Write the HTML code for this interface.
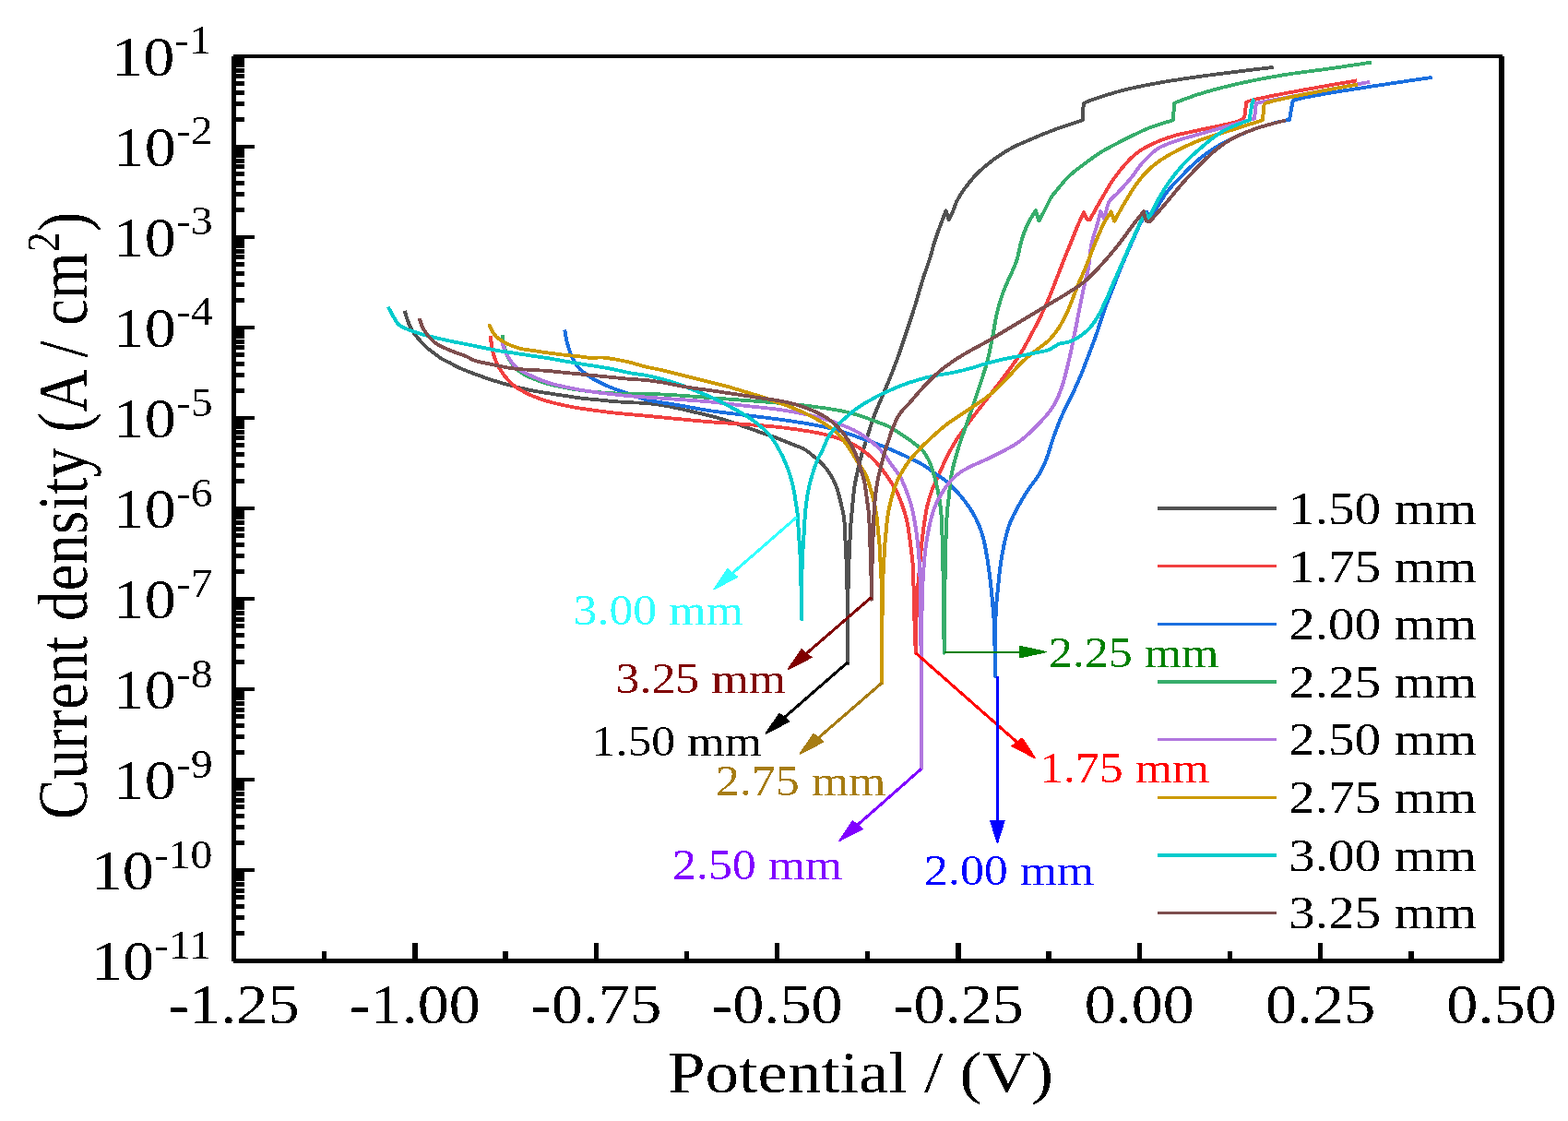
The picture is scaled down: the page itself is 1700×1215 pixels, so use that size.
<!DOCTYPE html>
<html lang="en"><head><meta charset="utf-8"><title>Potentiodynamic polarization curves</title>
<style>html,body{margin:0;padding:0;background:#fff;}body{width:1700px;height:1215px;overflow:hidden;}svg{display:block;}text{font-family:'Liberation Serif', serif;}</style>
</head><body>
<svg width="1700" height="1215" viewBox="0 0 1700 1215">
<rect x="0" y="0" width="1700" height="1215" fill="#ffffff"/>
<defs><filter id="thr" x="-5%" y="-20%" width="110%" height="140%" color-interpolation-filters="sRGB"><feComponentTransfer><feFuncA type="discrete" tableValues="0 1"/></feComponentTransfer></filter></defs>
<g transform="scale(1.05 1)" fill="none" stroke-width="3.8" stroke-linejoin="round" stroke-linecap="butt" shape-rendering="crispEdges">
<path stroke="#515151" d="M417.90 336.70 L417.97 336.97 L418.16 337.70 L418.44 338.78 L418.79 340.12 L419.20 341.61 L419.63 343.14 L420.06 344.60 L420.48 345.90 L420.92 347.21 L421.37 348.54 L421.84 349.88 L422.34 351.23 L422.86 352.58 L423.42 353.91 L424.02 355.22 L424.67 356.50 L425.38 357.77 L426.13 359.02 L426.93 360.24 L427.76 361.45 L428.63 362.64 L429.51 363.83 L430.42 365.02 L431.33 366.20 L432.32 367.45 L433.33 368.71 L434.37 369.97 L435.44 371.22 L436.52 372.45 L437.61 373.64 L438.71 374.80 L439.81 375.90 L440.83 376.87 L441.86 377.80 L442.91 378.69 L443.96 379.56 L445.01 380.41 L446.07 381.24 L447.13 382.07 L448.19 382.90 L449.23 383.72 L450.26 384.53 L451.30 385.34 L452.35 386.14 L453.39 386.92 L454.44 387.68 L455.50 388.41 L456.57 389.10 L457.60 389.72 L458.64 390.30 L459.69 390.84 L460.74 391.37 L461.80 391.89 L462.85 392.41 L463.90 392.94 L464.95 393.50 L466.01 394.09 L467.07 394.70 L468.13 395.32 L469.18 395.94 L470.24 396.56 L471.30 397.16 L472.36 397.75 L473.43 398.30 L474.45 398.80 L475.44 399.27 L476.43 399.72 L477.42 400.16 L478.44 400.60 L479.50 401.04 L480.62 401.51 L481.81 402.00 L483.62 402.74 L485.58 403.53 L487.66 404.36 L489.81 405.20 L492.02 406.04 L494.23 406.89 L496.43 407.71 L498.57 408.50 L500.67 409.26 L502.77 410.02 L504.88 410.77 L506.99 411.50 L509.09 412.22 L511.20 412.93 L513.32 413.63 L515.43 414.30 L517.52 414.95 L519.61 415.58 L521.70 416.20 L523.80 416.80 L525.89 417.39 L527.99 417.97 L530.09 418.54 L532.19 419.10 L534.29 419.65 L536.39 420.20 L538.50 420.74 L540.61 421.26 L542.72 421.77 L544.83 422.27 L546.94 422.74 L549.05 423.20 L551.14 423.63 L553.23 424.03 L555.33 424.42 L557.42 424.79 L559.52 425.15 L561.61 425.50 L563.71 425.85 L565.81 426.20 L567.91 426.54 L570.02 426.88 L572.13 427.20 L574.24 427.52 L576.35 427.83 L578.45 428.15 L580.56 428.47 L582.67 428.80 L584.76 429.14 L586.86 429.49 L588.95 429.85 L591.04 430.21 L593.14 430.56 L595.23 430.89 L597.33 431.21 L599.43 431.50 L601.53 431.76 L603.64 431.99 L605.74 432.21 L607.85 432.41 L609.96 432.60 L612.07 432.79 L614.18 432.99 L616.29 433.20 L618.38 433.42 L620.48 433.66 L622.57 433.89 L624.67 434.13 L626.76 434.36 L628.85 434.59 L630.95 434.80 L633.05 435.00 L635.15 435.18 L637.26 435.35 L639.37 435.51 L641.47 435.66 L643.58 435.81 L645.69 435.94 L647.80 436.07 L649.90 436.20 L652.00 436.31 L654.10 436.40 L656.20 436.47 L658.29 436.54 L660.39 436.62 L662.48 436.72 L664.57 436.84 L666.67 437.00 L668.76 437.19 L670.86 437.40 L672.96 437.63 L675.05 437.88 L677.15 438.16 L679.24 438.45 L681.34 438.76 L683.43 439.10 L685.54 439.47 L687.65 439.86 L689.76 440.28 L691.87 440.73 L693.97 441.18 L696.08 441.65 L698.18 442.12 L700.29 442.60 L702.39 443.08 L704.48 443.58 L706.58 444.09 L708.67 444.61 L710.76 445.13 L712.86 445.65 L714.95 446.18 L717.05 446.70 L719.15 447.22 L721.26 447.73 L723.37 448.23 L725.48 448.75 L727.59 449.26 L729.70 449.79 L731.80 450.34 L733.90 450.90 L736.01 451.48 L738.11 452.07 L740.21 452.67 L742.30 453.29 L744.39 453.92 L746.49 454.56 L748.58 455.22 L750.67 455.90 L752.78 456.61 L754.89 457.35 L757.00 458.11 L759.11 458.88 L761.21 459.66 L763.32 460.44 L765.42 461.23 L767.52 462.00 L769.62 462.77 L771.72 463.54 L773.81 464.32 L775.91 465.09 L778.00 465.87 L780.09 466.65 L782.19 467.42 L784.29 468.20 L786.39 468.97 L788.50 469.73 L790.61 470.49 L792.72 471.25 L794.83 472.01 L796.94 472.79 L799.04 473.58 L801.14 474.40 L803.26 475.25 L805.41 476.14 L807.55 477.04 L809.70 477.96 L811.81 478.87 L813.90 479.78 L815.93 480.65 L817.90 481.50 L819.56 482.18 L821.18 482.81 L822.77 483.41 L824.34 484.01 L825.87 484.63 L827.38 485.28 L828.85 486.00 L830.29 486.80 L831.64 487.66 L832.95 488.57 L834.23 489.54 L835.48 490.54 L836.71 491.58 L837.93 492.64 L839.15 493.72 L840.38 494.80 L841.67 495.93 L842.96 497.07 L844.24 498.24 L845.52 499.42 L846.78 500.64 L848.02 501.89 L849.22 503.17 L850.38 504.50 L851.55 505.91 L852.69 507.37 L853.81 508.87 L854.90 510.40 L855.96 511.96 L856.97 513.55 L857.94 515.16 L858.86 516.80 L859.73 518.47 L860.54 520.16 L861.31 521.87 L862.04 523.61 L862.74 525.39 L863.40 527.19 L864.05 529.03 L864.67 530.90 L865.32 533.02 L865.92 535.24 L866.50 537.53 L867.04 539.84 L867.55 542.14 L868.04 544.39 L868.50 546.55 L868.95 548.60 L869.30 550.14 L869.63 551.60 L869.96 553.02 L870.26 554.40 L870.55 555.77 L870.82 557.15 L871.06 558.55 L871.29 560.00 L871.49 561.57 L871.66 563.16 L871.81 564.76 L871.93 566.38 L872.04 568.01 L872.14 569.66 L872.23 571.32 L872.33 573.00 L872.44 574.83 L872.52 576.71 L872.60 578.62 L872.67 580.54 L872.74 582.45 L872.81 584.34 L872.88 586.20 L872.95 588.00 L873.02 589.56 L873.09 591.08 L873.17 592.58 L873.24 594.05 L873.31 595.52 L873.38 597.00 L873.45 598.49 L873.52 600.00 L873.60 601.60 L873.67 603.21 L873.75 604.84 L873.82 606.47 L873.90 608.10 L873.97 609.74 L874.03 611.37 L874.10 613.00 L874.15 614.62 L874.21 616.25 L874.26 617.87 L874.30 619.50 L874.35 621.12 L874.39 622.75 L874.43 624.37 L874.48 626.00 L874.52 627.62 L874.55 629.25 L874.59 630.87 L874.62 632.50 L874.66 634.12 L874.69 635.75 L874.73 637.37 L874.76 639.00 L874.80 640.62 L874.84 642.25 L874.87 643.87 L874.91 645.50 L874.95 647.12 L874.98 648.75 L875.02 650.37 L875.05 652.00 L875.08 653.56 L875.10 655.04 L875.13 656.48 L875.16 657.94 L875.18 659.47 L875.20 661.12 L875.22 662.95 L875.24 665.00 L875.26 670.76 L875.27 678.52 L875.28 687.44 L875.27 696.66 L875.26 705.33 L875.25 712.57 L875.24 717.55 L875.24 719.40 L875.23 717.55 L875.23 712.57 L875.22 705.33 L875.21 696.66 L875.20 687.44 L875.20 678.52 L875.21 670.76 L875.24 665.00 L875.26 662.95 L875.27 661.12 L875.30 659.47 L875.32 657.94 L875.34 656.48 L875.37 655.04 L875.40 653.56 L875.43 652.00 L875.46 650.37 L875.49 648.75 L875.53 647.12 L875.57 645.50 L875.60 643.87 L875.64 642.25 L875.68 640.62 L875.71 639.00 L875.75 637.37 L875.78 635.75 L875.82 634.12 L875.85 632.50 L875.89 630.87 L875.92 629.25 L875.96 627.62 L876.00 626.00 L876.04 624.37 L876.08 622.75 L876.13 621.12 L876.17 619.50 L876.22 617.87 L876.27 616.25 L876.32 614.62 L876.38 613.00 L876.44 611.37 L876.51 609.74 L876.58 608.10 L876.65 606.47 L876.73 604.84 L876.80 603.21 L876.88 601.60 L876.95 600.00 L877.02 598.49 L877.09 597.00 L877.17 595.52 L877.24 594.05 L877.31 592.58 L877.38 591.08 L877.45 589.56 L877.52 588.00 L877.60 586.20 L877.67 584.34 L877.73 582.45 L877.80 580.54 L877.87 578.62 L877.95 576.71 L878.04 574.83 L878.14 573.00 L878.25 571.32 L878.37 569.66 L878.50 568.02 L878.64 566.39 L878.78 564.77 L878.92 563.17 L879.06 561.58 L879.19 560.00 L879.31 558.56 L879.43 557.18 L879.54 555.82 L879.66 554.47 L879.78 553.10 L879.90 551.68 L880.04 550.19 L880.19 548.60 L880.41 546.25 L880.64 543.71 L880.88 541.03 L881.13 538.28 L881.41 535.48 L881.71 532.70 L882.03 529.99 L882.38 527.40 L882.73 525.12 L883.11 522.87 L883.50 520.67 L883.92 518.49 L884.35 516.32 L884.79 514.16 L885.25 511.99 L885.71 509.80 L886.19 507.58 L886.68 505.34 L887.19 503.10 L887.70 500.87 L888.23 498.64 L888.78 496.43 L889.33 494.25 L889.90 492.10 L890.46 490.12 L891.02 488.20 L891.59 486.31 L892.17 484.44 L892.77 482.55 L893.39 480.61 L894.02 478.60 L894.67 476.50 L895.50 473.72 L896.35 470.80 L897.24 467.76 L898.14 464.66 L899.07 461.53 L900.02 458.41 L901.00 455.36 L902.00 452.40 L902.98 449.67 L904.00 446.98 L905.04 444.32 L906.11 441.69 L907.18 439.07 L908.25 436.46 L909.32 433.84 L910.38 431.20 L911.43 428.56 L912.48 425.92 L913.54 423.29 L914.59 420.66 L915.64 418.02 L916.69 415.37 L917.73 412.69 L918.76 410.00 L919.83 407.20 L920.89 404.39 L921.94 401.57 L923.00 398.73 L924.04 395.87 L925.08 392.98 L926.12 390.06 L927.14 387.10 L928.23 383.89 L929.30 380.62 L930.36 377.32 L931.42 373.98 L932.47 370.63 L933.52 367.28 L934.57 363.93 L935.62 360.60 L936.67 357.30 L937.73 354.01 L938.79 350.74 L939.84 347.45 L940.89 344.16 L941.94 340.84 L942.97 337.49 L944.00 334.10 L945.07 330.45 L946.12 326.73 L947.17 322.96 L948.21 319.18 L949.25 315.40 L950.28 311.66 L951.33 307.98 L952.38 304.40 L953.37 301.19 L954.38 298.01 L955.40 294.85 L956.42 291.75 L957.43 288.69 L958.40 285.69 L959.32 282.76 L960.19 279.90 L960.86 277.57 L961.48 275.31 L962.06 273.10 L962.62 270.93 L963.18 268.79 L963.74 266.66 L964.33 264.54 L964.95 262.40 L965.60 260.29 L966.26 258.17 L966.95 256.05 L967.64 253.95 L968.34 251.87 L969.03 249.83 L969.71 247.83 L970.38 245.90 L970.95 244.26 L971.53 242.63 L972.11 241.01 L972.68 239.43 L973.24 237.90 L973.78 236.45 L974.29 235.07 L974.76 233.80 L975.09 232.93 L975.43 232.01 L975.78 231.10 L976.12 230.23 L976.41 229.46 L976.64 228.85 L976.80 228.45 L976.86 228.30 L979.62 238.30 L979.74 238.05 L980.08 237.35 L980.57 236.31 L981.18 235.02 L981.85 233.59 L982.52 232.11 L983.16 230.68 L983.71 229.40 L984.23 228.11 L984.71 226.79 L985.18 225.44 L985.65 224.07 L986.13 222.71 L986.62 221.35 L987.15 220.01 L987.71 218.70 L988.32 217.42 L988.95 216.15 L989.60 214.90 L990.28 213.65 L990.98 212.42 L991.69 211.20 L992.41 209.99 L993.14 208.80 L993.88 207.64 L994.63 206.50 L995.39 205.38 L996.16 204.26 L996.96 203.15 L997.76 202.05 L998.59 200.93 L999.43 199.80 L1000.35 198.57 L1001.28 197.33 L1002.23 196.08 L1003.20 194.83 L1004.20 193.58 L1005.21 192.34 L1006.26 191.11 L1007.33 189.90 L1008.52 188.62 L1009.74 187.35 L1011.00 186.09 L1012.28 184.83 L1013.58 183.60 L1014.89 182.38 L1016.21 181.18 L1017.52 180.00 L1018.79 178.89 L1020.04 177.81 L1021.29 176.75 L1022.55 175.71 L1023.83 174.68 L1025.16 173.64 L1026.55 172.58 L1028.00 171.50 L1029.89 170.12 L1031.89 168.69 L1033.97 167.23 L1036.12 165.77 L1038.30 164.32 L1040.50 162.91 L1042.69 161.57 L1044.86 160.30 L1046.92 159.17 L1049.01 158.10 L1051.10 157.08 L1053.19 156.10 L1055.30 155.15 L1057.41 154.20 L1059.51 153.26 L1061.62 152.30 L1063.72 151.33 L1065.82 150.37 L1067.93 149.42 L1070.03 148.47 L1072.14 147.53 L1074.25 146.61 L1076.36 145.69 L1078.48 144.80 L1080.55 143.94 L1082.60 143.10 L1084.64 142.28 L1086.69 141.46 L1088.75 140.66 L1090.86 139.85 L1093.02 139.03 L1095.24 138.20 L1098.21 137.12 L1101.72 135.88 L1105.47 134.57 L1109.18 133.28 L1112.57 132.12 L1115.34 131.17 L1117.22 130.53 L1117.90 130.30 L1118.76 112.60 L1118.83 112.54 L1119.04 112.39 L1119.36 112.16 L1119.77 111.87 L1120.27 111.53 L1120.84 111.18 L1121.45 110.83 L1122.10 110.50 L1124.50 109.44 L1127.74 108.16 L1131.62 106.73 L1135.95 105.21 L1140.55 103.65 L1145.23 102.12 L1149.81 100.68 L1154.10 99.40 L1158.18 98.25 L1162.22 97.17 L1166.27 96.16 L1170.34 95.19 L1174.48 94.25 L1178.71 93.34 L1183.08 92.42 L1187.62 91.50 L1193.35 90.38 L1199.25 89.28 L1205.31 88.21 L1211.53 87.16 L1217.92 86.11 L1224.48 85.08 L1231.20 84.04 L1238.10 83.00 L1247.97 81.58 L1259.75 79.97 L1272.44 78.30 L1285.06 76.66 L1296.60 75.19 L1306.08 74.00 L1312.50 73.19 L1314.86 72.90"/>
<path stroke="#F14040" d="M506.67 364.40 L506.69 364.74 L506.76 365.67 L506.86 367.06 L507.00 368.75 L507.17 370.62 L507.36 372.53 L507.58 374.33 L507.81 375.90 L508.05 377.26 L508.33 378.62 L508.62 379.97 L508.94 381.31 L509.28 382.64 L509.63 383.95 L510.00 385.24 L510.38 386.50 L510.74 387.65 L511.12 388.78 L511.50 389.89 L511.90 390.99 L512.32 392.07 L512.76 393.15 L513.22 394.22 L513.71 395.30 L514.26 396.42 L514.83 397.54 L515.43 398.64 L516.05 399.75 L516.70 400.85 L517.37 401.94 L518.05 403.02 L518.76 404.10 L519.53 405.24 L520.33 406.38 L521.16 407.52 L522.01 408.66 L522.88 409.77 L523.76 410.86 L524.64 411.90 L525.52 412.90 L526.32 413.76 L527.13 414.60 L527.93 415.40 L528.75 416.18 L529.57 416.93 L530.42 417.67 L531.29 418.39 L532.19 419.10 L533.17 419.83 L534.18 420.53 L535.22 421.21 L536.28 421.88 L537.35 422.53 L538.43 423.16 L539.50 423.79 L540.57 424.40 L541.60 424.99 L542.60 425.55 L543.59 426.10 L544.60 426.64 L545.63 427.18 L546.70 427.71 L547.84 428.25 L549.05 428.80 L550.86 429.58 L552.81 430.38 L554.89 431.19 L557.04 432.00 L559.24 432.80 L561.46 433.57 L563.66 434.31 L565.81 435.00 L567.90 435.64 L570.00 436.25 L572.11 436.83 L574.22 437.38 L576.33 437.91 L578.44 438.42 L580.55 438.92 L582.67 439.40 L584.76 439.86 L586.85 440.30 L588.94 440.72 L591.04 441.12 L593.13 441.50 L595.23 441.88 L597.33 442.24 L599.43 442.60 L601.53 442.95 L603.64 443.28 L605.74 443.60 L607.85 443.91 L609.96 444.21 L612.07 444.50 L614.18 444.80 L616.29 445.10 L618.38 445.40 L620.48 445.70 L622.57 446.00 L624.66 446.30 L626.76 446.59 L628.85 446.87 L630.95 447.14 L633.05 447.40 L635.15 447.64 L637.26 447.87 L639.37 448.09 L641.47 448.29 L643.58 448.50 L645.69 448.70 L647.80 448.90 L649.90 449.10 L651.96 449.30 L653.96 449.49 L655.94 449.68 L657.93 449.86 L659.96 450.06 L662.07 450.26 L664.30 450.47 L666.67 450.70 L670.32 451.06 L674.26 451.46 L678.43 451.89 L682.75 452.33 L687.17 452.78 L691.61 453.23 L696.00 453.68 L700.29 454.10 L704.49 454.51 L708.69 454.93 L712.89 455.35 L717.09 455.76 L721.30 456.16 L725.50 456.55 L729.70 456.93 L733.90 457.30 L738.11 457.64 L742.31 457.97 L746.51 458.28 L750.71 458.57 L754.92 458.87 L759.12 459.17 L763.32 459.48 L767.52 459.80 L771.73 460.12 L775.93 460.43 L780.14 460.74 L784.34 461.06 L788.54 461.39 L792.75 461.75 L796.95 462.15 L801.14 462.60 L805.43 463.10 L809.83 463.66 L814.27 464.25 L818.69 464.87 L823.02 465.50 L827.18 466.14 L831.12 466.78 L834.76 467.40 L837.14 467.82 L839.37 468.23 L841.49 468.63 L843.52 469.04 L845.51 469.46 L847.48 469.90 L849.48 470.38 L851.52 470.90 L853.64 471.46 L855.76 472.04 L857.88 472.65 L859.99 473.29 L862.10 473.96 L864.20 474.66 L866.30 475.41 L868.38 476.20 L870.52 477.05 L872.67 477.92 L874.82 478.84 L876.96 479.79 L879.08 480.79 L881.16 481.84 L883.18 482.94 L885.14 484.10 L886.97 485.28 L888.77 486.53 L890.53 487.84 L892.25 489.19 L893.92 490.57 L895.54 491.96 L897.09 493.34 L898.57 494.70 L899.76 495.83 L900.88 496.95 L901.94 498.05 L902.96 499.17 L903.96 500.31 L904.97 501.48 L905.99 502.71 L907.05 504.00 L908.36 505.64 L909.70 507.38 L911.07 509.18 L912.43 511.04 L913.79 512.94 L915.11 514.84 L916.39 516.74 L917.62 518.60 L918.73 520.34 L919.82 522.07 L920.88 523.81 L921.90 525.54 L922.90 527.30 L923.87 529.07 L924.81 530.87 L925.71 532.70 L926.61 534.61 L927.47 536.54 L928.29 538.50 L929.09 540.48 L929.85 542.49 L930.59 544.51 L931.31 546.55 L932.00 548.60 L932.69 550.73 L933.36 552.87 L934.00 555.03 L934.61 557.20 L935.19 559.41 L935.74 561.64 L936.27 563.90 L936.76 566.20 L937.25 568.74 L937.69 571.32 L938.09 573.95 L938.46 576.61 L938.80 579.29 L939.14 581.99 L939.47 584.69 L939.81 587.40 L940.17 590.23 L940.53 593.10 L940.89 595.99 L941.24 598.90 L941.57 601.79 L941.87 604.67 L942.15 607.51 L942.38 610.30 L942.56 612.82 L942.71 615.30 L942.83 617.74 L942.94 620.17 L943.02 622.59 L943.10 625.03 L943.17 627.49 L943.24 630.00 L943.30 632.71 L943.34 635.47 L943.37 638.26 L943.39 641.06 L943.41 643.86 L943.43 646.63 L943.47 649.35 L943.52 652.00 L943.59 654.33 L943.67 656.61 L943.75 658.84 L943.84 661.05 L943.93 663.26 L944.02 665.48 L944.11 667.72 L944.19 670.00 L944.27 672.46 L944.33 674.95 L944.40 677.47 L944.46 680.00 L944.52 682.53 L944.59 685.05 L944.67 687.54 L944.76 690.00 L944.87 692.54 L945.02 695.41 L945.17 698.40 L945.33 701.31 L945.48 703.93 L945.60 706.05 L945.68 707.48 L945.71 708.00 L945.72 707.48 L945.75 706.05 L945.78 703.93 L945.83 701.31 L945.88 698.40 L945.92 695.41 L945.97 692.54 L946.00 690.00 L946.03 687.54 L946.05 685.05 L946.07 682.53 L946.08 680.00 L946.10 677.47 L946.12 674.95 L946.15 672.46 L946.19 670.00 L946.23 667.70 L946.27 665.42 L946.32 663.16 L946.37 660.91 L946.42 658.67 L946.49 656.44 L946.57 654.22 L946.67 652.00 L946.78 649.85 L946.90 647.70 L947.03 645.56 L947.17 643.43 L947.33 641.31 L947.48 639.19 L947.65 637.09 L947.81 635.00 L947.97 633.01 L948.15 631.04 L948.33 629.10 L948.51 627.16 L948.70 625.21 L948.88 623.25 L949.06 621.25 L949.24 619.20 L949.42 616.88 L949.60 614.50 L949.77 612.09 L949.94 609.64 L950.11 607.20 L950.28 604.76 L950.47 602.36 L950.67 600.00 L950.86 597.82 L951.06 595.65 L951.27 593.50 L951.48 591.37 L951.70 589.25 L951.92 587.15 L952.15 585.07 L952.38 583.00 L952.60 581.09 L952.82 579.23 L953.04 577.39 L953.27 575.56 L953.50 573.72 L953.75 571.86 L954.01 569.96 L954.29 568.00 L954.61 565.68 L954.95 563.29 L955.30 560.85 L955.66 558.38 L956.05 555.90 L956.47 553.43 L956.93 550.99 L957.43 548.60 L957.95 546.33 L958.51 544.07 L959.09 541.82 L959.71 539.60 L960.36 537.39 L961.04 535.20 L961.74 533.04 L962.48 530.90 L963.22 528.87 L964.00 526.90 L964.81 524.95 L965.64 523.02 L966.50 521.09 L967.37 519.13 L968.25 517.14 L969.14 515.10 L970.14 512.75 L971.16 510.33 L972.19 507.88 L973.24 505.39 L974.31 502.90 L975.40 500.43 L976.50 497.99 L977.62 495.60 L978.70 493.35 L979.77 491.15 L980.85 488.99 L981.94 486.83 L983.08 484.68 L984.26 482.50 L985.52 480.28 L986.86 478.00 L988.59 475.19 L990.44 472.32 L992.40 469.39 L994.42 466.43 L996.50 463.45 L998.60 460.47 L1000.70 457.52 L1002.76 454.60 L1004.83 451.70 L1006.92 448.81 L1009.02 445.94 L1011.14 443.07 L1013.26 440.20 L1015.39 437.33 L1017.51 434.47 L1019.62 431.60 L1021.72 428.74 L1023.82 425.90 L1025.92 423.06 L1028.02 420.22 L1030.12 417.37 L1032.21 414.51 L1034.30 411.62 L1036.38 408.70 L1038.51 405.70 L1040.65 402.71 L1042.79 399.71 L1044.92 396.69 L1047.04 393.62 L1049.13 390.50 L1051.20 387.30 L1053.24 384.00 L1055.44 380.26 L1057.62 376.39 L1059.77 372.42 L1061.90 368.39 L1063.99 364.32 L1066.04 360.24 L1068.05 356.19 L1070.00 352.20 L1071.81 348.44 L1073.58 344.70 L1075.30 340.98 L1076.98 337.26 L1078.63 333.53 L1080.25 329.78 L1081.85 326.01 L1083.43 322.20 L1085.00 318.28 L1086.53 314.30 L1088.03 310.28 L1089.50 306.25 L1090.95 302.23 L1092.39 298.25 L1093.81 294.33 L1095.24 290.50 L1096.54 287.05 L1097.83 283.64 L1099.11 280.27 L1100.38 276.93 L1101.64 273.63 L1102.89 270.38 L1104.12 267.17 L1105.33 264.00 L1106.42 261.15 L1107.51 258.30 L1108.59 255.47 L1109.65 252.68 L1110.70 249.95 L1111.73 247.32 L1112.73 244.79 L1113.71 242.40 L1114.52 240.51 L1115.41 238.47 L1116.33 236.40 L1117.22 234.43 L1118.01 232.68 L1118.65 231.27 L1119.08 230.34 L1119.24 230.00 L1119.34 230.30 L1119.62 231.10 L1120.03 232.25 L1120.56 233.60 L1121.15 234.99 L1121.77 236.27 L1122.38 237.29 L1122.95 237.90 L1123.29 238.05 L1123.69 238.12 L1124.12 238.13 L1124.54 238.09 L1124.92 238.04 L1125.23 237.97 L1125.45 237.92 L1125.52 237.90 L1125.86 237.26 L1126.78 235.50 L1128.15 232.88 L1129.84 229.66 L1131.72 226.10 L1133.67 222.45 L1135.55 218.96 L1137.24 215.90 L1138.83 213.02 L1140.43 210.12 L1142.03 207.20 L1143.67 204.28 L1145.34 201.38 L1147.05 198.51 L1148.82 195.68 L1150.67 192.90 L1152.63 190.10 L1154.68 187.26 L1156.81 184.42 L1158.99 181.64 L1161.17 178.94 L1163.34 176.37 L1165.47 173.98 L1167.52 171.80 L1169.01 170.31 L1170.44 168.93 L1171.84 167.66 L1173.24 166.45 L1174.65 165.31 L1176.11 164.20 L1177.63 163.10 L1179.24 162.00 L1181.15 160.77 L1183.17 159.58 L1185.25 158.42 L1187.40 157.30 L1189.57 156.22 L1191.76 155.17 L1193.94 154.17 L1196.10 153.20 L1198.15 152.31 L1200.17 151.46 L1202.19 150.66 L1204.22 149.89 L1206.28 149.14 L1208.39 148.42 L1210.58 147.71 L1212.86 147.00 L1215.70 146.19 L1218.62 145.44 L1221.62 144.73 L1224.71 144.03 L1227.89 143.34 L1231.18 142.61 L1234.58 141.84 L1238.10 141.00 L1243.34 139.78 L1249.37 138.48 L1255.84 137.11 L1262.37 135.68 L1268.60 134.22 L1274.16 132.74 L1278.68 131.26 L1281.81 129.80 L1282.54 129.26 L1283.19 128.65 L1283.76 128.00 L1284.24 127.37 L1284.63 126.80 L1284.91 126.33 L1285.08 126.02 L1285.14 125.90 L1286.86 111.50 L1286.89 111.45 L1287.00 111.33 L1287.18 111.13 L1287.43 110.89 L1287.74 110.62 L1288.11 110.34 L1288.55 110.06 L1289.05 109.80 L1296.48 107.63 L1310.40 104.52 L1328.51 100.84 L1348.50 96.98 L1368.07 93.32 L1384.91 90.23 L1396.70 88.10 L1401.14 87.30"/>
<path stroke="#1A6FDF" d="M583.14 357.40 L583.17 357.62 L583.25 358.24 L583.36 359.16 L583.51 360.30 L583.69 361.57 L583.88 362.88 L584.08 364.15 L584.29 365.30 L584.54 366.55 L584.81 367.83 L585.10 369.14 L585.41 370.47 L585.75 371.81 L586.10 373.17 L586.47 374.54 L586.86 375.90 L587.29 377.41 L587.74 378.96 L588.21 380.53 L588.70 382.10 L589.22 383.67 L589.78 385.22 L590.39 386.73 L591.05 388.20 L591.74 389.61 L592.47 391.01 L593.23 392.38 L594.04 393.73 L594.89 395.05 L595.78 396.33 L596.72 397.59 L597.71 398.80 L598.81 400.02 L599.98 401.20 L601.20 402.35 L602.47 403.46 L603.77 404.53 L605.11 405.58 L606.45 406.60 L607.81 407.60 L609.20 408.58 L610.63 409.53 L612.08 410.45 L613.55 411.34 L615.04 412.20 L616.55 413.05 L618.08 413.88 L619.62 414.70 L621.23 415.54 L622.85 416.35 L624.49 417.14 L626.15 417.91 L627.83 418.67 L629.54 419.42 L631.28 420.16 L633.05 420.90 L635.05 421.70 L637.11 422.48 L639.21 423.25 L641.34 424.00 L643.49 424.75 L645.64 425.50 L647.78 426.25 L649.90 427.00 L651.96 427.76 L653.95 428.54 L655.92 429.31 L657.90 430.09 L659.93 430.85 L662.04 431.60 L664.27 432.31 L666.67 433.00 L670.29 433.89 L674.23 434.70 L678.39 435.47 L682.72 436.21 L687.15 436.92 L691.60 437.63 L696.00 438.35 L700.29 439.10 L704.49 439.88 L708.69 440.68 L712.89 441.50 L717.09 442.31 L721.29 443.10 L725.49 443.87 L729.70 444.61 L733.90 445.30 L738.10 445.93 L742.30 446.52 L746.50 447.08 L750.71 447.61 L754.91 448.13 L759.12 448.64 L763.32 449.16 L767.52 449.70 L771.73 450.24 L775.93 450.78 L780.13 451.31 L784.34 451.84 L788.54 452.38 L792.74 452.94 L796.94 453.51 L801.14 454.10 L805.43 454.72 L809.83 455.37 L814.27 456.04 L818.69 456.72 L823.01 457.40 L827.18 458.08 L831.12 458.75 L834.76 459.40 L837.14 459.84 L839.37 460.27 L841.48 460.69 L843.51 461.10 L845.50 461.53 L847.47 461.96 L849.47 462.42 L851.52 462.90 L853.64 463.41 L855.75 463.92 L857.86 464.45 L859.97 464.99 L862.08 465.56 L864.19 466.14 L866.29 466.76 L868.38 467.40 L870.49 468.09 L872.59 468.81 L874.68 469.57 L876.78 470.35 L878.87 471.14 L880.96 471.93 L883.05 472.72 L885.14 473.50 L887.25 474.27 L889.36 475.02 L891.47 475.78 L893.58 476.54 L895.69 477.31 L897.80 478.09 L899.90 478.88 L902.00 479.70 L904.11 480.54 L906.21 481.40 L908.30 482.27 L910.40 483.15 L912.49 484.05 L914.58 484.95 L916.67 485.87 L918.76 486.80 L920.87 487.75 L922.99 488.70 L925.10 489.67 L927.21 490.65 L929.32 491.64 L931.42 492.65 L933.52 493.67 L935.62 494.70 L937.74 495.75 L939.88 496.80 L942.03 497.86 L944.17 498.94 L946.29 500.03 L948.37 501.16 L950.41 502.31 L952.38 503.50 L954.17 504.66 L955.91 505.85 L957.61 507.08 L959.29 508.33 L960.93 509.59 L962.57 510.85 L964.19 512.09 L965.81 513.30 L967.33 514.40 L968.84 515.47 L970.33 516.51 L971.82 517.56 L973.29 518.62 L974.75 519.72 L976.19 520.87 L977.62 522.10 L979.13 523.49 L980.63 524.93 L982.11 526.42 L983.58 527.96 L985.03 529.55 L986.48 531.17 L987.91 532.82 L989.33 534.50 L990.87 536.35 L992.41 538.27 L993.95 540.23 L995.48 542.23 L996.97 544.26 L998.42 546.31 L999.82 548.36 L1001.14 550.40 L1002.34 552.33 L1003.49 554.26 L1004.60 556.20 L1005.66 558.16 L1006.69 560.13 L1007.67 562.12 L1008.62 564.15 L1009.52 566.20 L1010.41 568.33 L1011.25 570.50 L1012.04 572.71 L1012.80 574.93 L1013.52 577.17 L1014.19 579.42 L1014.83 581.66 L1015.43 583.90 L1015.97 586.09 L1016.45 588.28 L1016.89 590.47 L1017.29 592.67 L1017.67 594.88 L1018.04 597.08 L1018.40 599.29 L1018.76 601.50 L1019.12 603.71 L1019.47 605.92 L1019.81 608.13 L1020.13 610.34 L1020.44 612.56 L1020.75 614.77 L1021.04 616.99 L1021.33 619.20 L1021.61 621.40 L1021.88 623.60 L1022.14 625.80 L1022.39 628.00 L1022.64 630.20 L1022.87 632.40 L1023.11 634.60 L1023.33 636.80 L1023.56 639.01 L1023.77 641.22 L1023.98 643.43 L1024.18 645.65 L1024.38 647.86 L1024.58 650.08 L1024.77 652.29 L1024.95 654.50 L1025.13 656.63 L1025.31 658.65 L1025.49 660.63 L1025.66 662.63 L1025.82 664.72 L1025.98 666.95 L1026.14 669.39 L1026.29 672.10 L1026.56 678.83 L1026.83 687.71 L1027.08 697.80 L1027.32 708.15 L1027.52 717.83 L1027.67 725.91 L1027.77 731.45 L1027.81 733.50 L1027.80 731.45 L1027.79 725.91 L1027.77 717.83 L1027.77 708.15 L1027.78 697.80 L1027.81 687.71 L1027.89 678.84 L1028.00 672.10 L1028.08 669.39 L1028.16 666.95 L1028.25 664.72 L1028.34 662.63 L1028.45 660.63 L1028.57 658.65 L1028.71 656.63 L1028.86 654.50 L1029.03 652.29 L1029.23 650.08 L1029.44 647.86 L1029.67 645.65 L1029.90 643.43 L1030.13 641.22 L1030.36 639.01 L1030.57 636.80 L1030.77 634.60 L1030.96 632.40 L1031.14 630.20 L1031.33 628.00 L1031.52 625.80 L1031.72 623.60 L1031.94 621.40 L1032.19 619.20 L1032.46 616.99 L1032.75 614.77 L1033.05 612.56 L1033.37 610.34 L1033.70 608.13 L1034.04 605.92 L1034.40 603.71 L1034.76 601.50 L1035.13 599.29 L1035.50 597.09 L1035.88 594.88 L1036.28 592.68 L1036.69 590.48 L1037.13 588.29 L1037.60 586.09 L1038.10 583.90 L1038.63 581.68 L1039.17 579.45 L1039.73 577.22 L1040.33 575.00 L1040.95 572.78 L1041.63 570.58 L1042.36 568.38 L1043.14 566.20 L1044.03 563.97 L1044.98 561.75 L1045.99 559.54 L1047.04 557.34 L1048.13 555.15 L1049.25 552.96 L1050.38 550.78 L1051.52 548.60 L1052.70 546.37 L1053.91 544.14 L1055.13 541.92 L1056.39 539.70 L1057.66 537.49 L1058.96 535.28 L1060.28 533.09 L1061.62 530.90 L1063.05 528.68 L1064.55 526.49 L1066.10 524.31 L1067.67 522.13 L1069.21 519.95 L1070.71 517.76 L1072.12 515.55 L1073.43 513.30 L1074.57 511.14 L1075.65 508.95 L1076.67 506.75 L1077.64 504.53 L1078.57 502.31 L1079.45 500.07 L1080.31 497.84 L1081.14 495.60 L1081.90 493.44 L1082.58 491.29 L1083.21 489.16 L1083.82 487.01 L1084.43 484.83 L1085.06 482.62 L1085.73 480.34 L1086.48 478.00 L1087.46 475.04 L1088.50 471.94 L1089.59 468.75 L1090.73 465.51 L1091.90 462.25 L1093.09 459.02 L1094.30 455.85 L1095.52 452.80 L1096.69 450.04 L1097.90 447.34 L1099.13 444.69 L1100.38 442.06 L1101.64 439.45 L1102.89 436.85 L1104.13 434.24 L1105.33 431.60 L1106.51 428.97 L1107.68 426.36 L1108.84 423.74 L1109.99 421.13 L1111.13 418.50 L1112.26 415.86 L1113.37 413.19 L1114.48 410.50 L1115.60 407.69 L1116.70 404.86 L1117.79 402.00 L1118.87 399.13 L1119.94 396.25 L1121.01 393.34 L1122.07 390.43 L1123.14 387.50 L1124.25 384.47 L1125.36 381.44 L1126.46 378.39 L1127.56 375.32 L1128.66 372.24 L1129.75 369.13 L1130.83 365.98 L1131.90 362.80 L1133.03 359.36 L1134.12 355.87 L1135.20 352.32 L1136.28 348.76 L1137.37 345.18 L1138.47 341.62 L1139.60 338.08 L1140.76 334.60 L1141.95 331.21 L1143.18 327.83 L1144.44 324.45 L1145.71 321.09 L1146.98 317.77 L1148.24 314.49 L1149.47 311.26 L1150.67 308.10 L1151.69 305.35 L1152.68 302.67 L1153.65 300.04 L1154.60 297.45 L1155.56 294.86 L1156.54 292.27 L1157.54 289.66 L1158.57 287.00 L1159.70 284.16 L1160.86 281.29 L1162.04 278.41 L1163.24 275.51 L1164.46 272.62 L1165.67 269.73 L1166.89 266.85 L1168.10 264.00 L1169.28 261.17 L1170.48 258.30 L1171.69 255.40 L1172.90 252.53 L1174.10 249.71 L1175.29 246.99 L1176.47 244.41 L1177.62 242.00 L1178.57 240.14 L1179.63 238.15 L1180.74 236.15 L1181.82 234.25 L1182.78 232.57 L1183.57 231.22 L1184.09 230.32 L1184.29 230.00 L1187.14 239.00 L1187.63 238.06 L1188.98 235.50 L1191.00 231.73 L1193.50 227.16 L1196.28 222.17 L1199.16 217.18 L1201.96 212.59 L1204.48 208.80 L1206.50 206.07 L1208.55 203.47 L1210.64 200.99 L1212.76 198.59 L1214.89 196.26 L1217.04 193.97 L1219.19 191.69 L1221.33 189.40 L1223.40 187.19 L1225.46 184.99 L1227.53 182.81 L1229.62 180.66 L1231.71 178.56 L1233.82 176.51 L1235.95 174.52 L1238.10 172.60 L1240.14 170.85 L1242.20 169.16 L1244.28 167.52 L1246.37 165.92 L1248.47 164.38 L1250.59 162.87 L1252.72 161.42 L1254.86 160.00 L1256.93 158.69 L1259.02 157.43 L1261.12 156.22 L1263.23 155.05 L1265.35 153.91 L1267.47 152.80 L1269.59 151.70 L1271.71 150.60 L1273.80 149.53 L1275.88 148.47 L1277.97 147.43 L1280.06 146.41 L1282.15 145.41 L1284.25 144.44 L1286.36 143.50 L1288.48 142.60 L1290.55 141.75 L1292.59 140.93 L1294.64 140.15 L1296.69 139.39 L1298.77 138.66 L1300.90 137.93 L1303.08 137.22 L1305.33 136.50 L1308.24 135.61 L1311.48 134.66 L1314.90 133.69 L1318.33 132.75 L1321.60 131.89 L1324.56 131.17 L1327.03 130.62 L1328.86 130.30 L1329.32 130.25 L1329.76 130.23 L1330.18 130.23 L1330.56 130.24 L1330.87 130.26 L1331.12 130.28 L1331.28 130.29 L1331.33 130.30 L1334.76 110.00 L1334.80 109.95 L1334.93 109.81 L1335.13 109.61 L1335.41 109.35 L1335.76 109.07 L1336.18 108.76 L1336.68 108.47 L1337.24 108.20 L1346.46 105.82 L1363.97 102.45 L1386.83 98.47 L1412.10 94.31 L1436.87 90.37 L1458.19 87.04 L1473.13 84.75 L1478.76 83.90"/>
<path stroke="#37AD6B" d="M519.14 362.60 L519.14 362.81 L519.15 363.39 L519.16 364.25 L519.19 365.31 L519.24 366.50 L519.31 367.73 L519.40 368.93 L519.52 370.00 L519.71 371.18 L519.93 372.40 L520.18 373.64 L520.46 374.90 L520.78 376.18 L521.12 377.46 L521.50 378.73 L521.90 380.00 L522.38 381.38 L522.89 382.78 L523.43 384.19 L524.01 385.60 L524.63 387.00 L525.27 388.37 L525.95 389.71 L526.67 391.00 L527.39 392.22 L528.15 393.43 L528.94 394.62 L529.76 395.78 L530.61 396.90 L531.49 397.98 L532.40 399.02 L533.33 400.00 L534.26 400.88 L535.23 401.72 L536.23 402.52 L537.25 403.27 L538.29 404.00 L539.33 404.69 L540.38 405.36 L541.43 406.00 L542.40 406.58 L543.35 407.11 L544.30 407.61 L545.26 408.09 L546.25 408.55 L547.28 409.02 L548.36 409.50 L549.52 410.00 L551.28 410.74 L553.17 411.51 L555.18 412.30 L557.27 413.09 L559.40 413.87 L561.56 414.63 L563.71 415.34 L565.81 416.00 L567.89 416.60 L569.98 417.16 L572.09 417.69 L574.20 418.19 L576.32 418.66 L578.44 419.12 L580.55 419.56 L582.67 420.00 L584.76 420.43 L586.85 420.84 L588.94 421.24 L591.04 421.62 L593.13 421.99 L595.23 422.34 L597.33 422.68 L599.43 423.00 L601.53 423.30 L603.64 423.59 L605.74 423.85 L607.85 424.11 L609.96 424.34 L612.07 424.57 L614.18 424.79 L616.29 425.00 L618.38 425.20 L620.48 425.39 L622.57 425.56 L624.66 425.73 L626.76 425.89 L628.85 426.03 L630.95 426.17 L633.05 426.30 L635.15 426.42 L637.26 426.54 L639.37 426.65 L641.47 426.74 L643.58 426.83 L645.69 426.90 L647.80 426.96 L649.90 427.00 L651.96 427.01 L653.96 426.99 L655.94 426.94 L657.93 426.88 L659.96 426.83 L662.07 426.79 L664.30 426.78 L666.67 426.80 L670.32 426.89 L674.26 427.04 L678.43 427.22 L682.75 427.44 L687.17 427.69 L691.61 427.95 L696.01 428.22 L700.29 428.50 L704.49 428.79 L708.69 429.11 L712.89 429.44 L717.10 429.79 L721.30 430.15 L725.50 430.51 L729.70 430.86 L733.90 431.20 L738.11 431.53 L742.31 431.85 L746.51 432.18 L750.71 432.50 L754.92 432.82 L759.12 433.15 L763.32 433.47 L767.52 433.80 L771.73 434.13 L775.93 434.45 L780.13 434.77 L784.34 435.09 L788.54 435.42 L792.74 435.77 L796.94 436.12 L801.14 436.50 L805.35 436.89 L809.55 437.28 L813.76 437.68 L817.96 438.09 L822.16 438.52 L826.37 438.98 L830.56 439.47 L834.76 440.00 L839.05 440.57 L843.45 441.18 L847.90 441.81 L852.32 442.47 L856.64 443.16 L860.81 443.86 L864.74 444.58 L868.38 445.30 L870.76 445.81 L873.00 446.32 L875.11 446.84 L877.15 447.36 L879.13 447.90 L881.11 448.47 L883.10 449.07 L885.14 449.70 L887.26 450.39 L889.37 451.11 L891.49 451.86 L893.59 452.64 L895.70 453.44 L897.80 454.26 L899.90 455.08 L902.00 455.90 L904.12 456.72 L906.26 457.54 L908.41 458.36 L910.55 459.19 L912.67 460.05 L914.75 460.95 L916.79 461.90 L918.76 462.90 L920.55 463.90 L922.30 464.96 L924.01 466.06 L925.68 467.19 L927.33 468.34 L928.96 469.50 L930.58 470.66 L932.19 471.80 L933.73 472.89 L935.27 473.99 L936.79 475.09 L938.30 476.20 L939.79 477.31 L941.23 478.41 L942.64 479.51 L944.00 480.60 L945.15 481.52 L946.27 482.40 L947.36 483.26 L948.43 484.13 L949.46 485.02 L950.47 485.95 L951.44 486.94 L952.38 488.00 L953.35 489.22 L954.27 490.48 L955.16 491.81 L956.01 493.18 L956.83 494.61 L957.63 496.09 L958.39 497.62 L959.14 499.20 L960.00 501.17 L960.80 503.24 L961.57 505.41 L962.30 507.63 L963.01 509.91 L963.68 512.21 L964.33 514.51 L964.95 516.80 L965.57 519.16 L966.17 521.55 L966.73 523.96 L967.26 526.39 L967.77 528.83 L968.25 531.28 L968.71 533.74 L969.14 536.20 L969.56 538.70 L969.96 541.22 L970.33 543.74 L970.68 546.27 L971.00 548.81 L971.30 551.36 L971.57 553.93 L971.81 556.50 L972.02 559.13 L972.19 561.76 L972.33 564.39 L972.44 567.03 L972.53 569.70 L972.62 572.41 L972.71 575.17 L972.81 578.00 L972.92 581.27 L973.03 584.56 L973.13 587.89 L973.22 591.28 L973.31 594.77 L973.40 598.37 L973.49 602.10 L973.57 606.00 L973.69 611.58 L973.80 617.67 L973.91 624.09 L974.02 630.67 L974.12 637.22 L974.22 643.58 L974.30 649.56 L974.38 655.00 L974.43 658.51 L974.47 661.80 L974.51 664.92 L974.55 667.93 L974.58 670.89 L974.61 673.85 L974.64 676.87 L974.67 680.00 L974.70 683.80 L974.73 688.17 L974.76 692.80 L974.79 697.34 L974.82 701.46 L974.84 704.81 L974.85 707.07 L974.86 707.90 L974.86 707.07 L974.88 704.81 L974.90 701.46 L974.92 697.34 L974.95 692.80 L974.98 688.17 L975.02 683.80 L975.05 680.00 L975.08 676.87 L975.11 673.85 L975.14 670.89 L975.17 667.93 L975.20 664.92 L975.24 661.80 L975.29 658.51 L975.33 655.00 L975.41 649.56 L975.50 643.58 L975.59 637.22 L975.69 630.67 L975.80 624.09 L975.91 617.67 L976.03 611.58 L976.14 606.00 L976.23 602.10 L976.31 598.37 L976.40 594.77 L976.49 591.28 L976.58 587.89 L976.68 584.56 L976.79 581.27 L976.90 578.00 L977.01 575.16 L977.11 572.36 L977.21 569.61 L977.32 566.90 L977.44 564.24 L977.58 561.61 L977.73 559.04 L977.90 556.50 L978.08 554.34 L978.26 552.26 L978.46 550.25 L978.67 548.25 L978.90 546.25 L979.13 544.19 L979.37 542.06 L979.62 539.80 L979.94 536.74 L980.26 533.47 L980.59 530.06 L980.94 526.58 L981.32 523.10 L981.73 519.68 L982.17 516.39 L982.67 513.30 L983.11 510.90 L983.59 508.60 L984.09 506.38 L984.62 504.20 L985.16 502.06 L985.72 499.92 L986.28 497.78 L986.86 495.60 L987.43 493.43 L988.00 491.31 L988.58 489.21 L989.17 487.11 L989.79 484.97 L990.45 482.75 L991.15 480.44 L991.90 478.00 L993.05 474.43 L994.31 470.61 L995.67 466.61 L997.09 462.49 L998.54 458.28 L999.99 454.06 L1001.41 449.88 L1002.76 445.80 L1004.07 441.79 L1005.39 437.72 L1006.70 433.65 L1007.99 429.58 L1009.27 425.55 L1010.51 421.59 L1011.71 417.73 L1012.86 414.00 L1013.79 410.96 L1014.71 408.02 L1015.59 405.16 L1016.45 402.34 L1017.29 399.55 L1018.09 396.74 L1018.87 393.90 L1019.62 391.00 L1020.34 387.98 L1021.02 384.95 L1021.66 381.90 L1022.28 378.83 L1022.88 375.74 L1023.47 372.62 L1024.06 369.48 L1024.67 366.30 L1025.30 362.85 L1025.90 359.31 L1026.48 355.72 L1027.06 352.12 L1027.66 348.52 L1028.30 344.97 L1028.97 341.48 L1029.71 338.10 L1030.43 335.12 L1031.16 332.23 L1031.92 329.40 L1032.71 326.60 L1033.54 323.81 L1034.42 320.99 L1035.37 318.13 L1036.38 315.20 L1037.71 311.65 L1039.24 307.86 L1040.90 303.94 L1042.60 300.03 L1044.27 296.24 L1045.81 292.71 L1047.14 289.55 L1048.19 286.90 L1048.58 285.83 L1048.92 284.91 L1049.21 284.09 L1049.47 283.33 L1049.71 282.57 L1049.95 281.78 L1050.20 280.90 L1050.48 279.90 L1050.94 278.07 L1051.41 276.01 L1051.88 273.79 L1052.36 271.45 L1052.84 269.08 L1053.34 266.74 L1053.86 264.49 L1054.38 262.40 L1054.84 260.72 L1055.31 259.09 L1055.78 257.48 L1056.26 255.92 L1056.75 254.39 L1057.25 252.89 L1057.76 251.43 L1058.29 250.00 L1058.75 248.79 L1059.22 247.61 L1059.70 246.46 L1060.18 245.34 L1060.67 244.24 L1061.17 243.15 L1061.68 242.07 L1062.19 241.00 L1062.69 239.99 L1063.19 238.98 L1063.71 237.98 L1064.23 236.99 L1064.76 236.02 L1065.27 235.08 L1065.79 234.17 L1066.29 233.30 L1066.73 232.55 L1067.23 231.73 L1067.76 230.90 L1068.26 230.10 L1068.72 229.39 L1069.09 228.82 L1069.34 228.44 L1069.43 228.30 L1072.76 239.50 L1072.92 239.20 L1073.34 238.37 L1073.97 237.15 L1074.74 235.65 L1075.58 234.00 L1076.44 232.33 L1077.23 230.75 L1077.90 229.40 L1078.42 228.34 L1078.92 227.29 L1079.41 226.25 L1079.89 225.23 L1080.37 224.22 L1080.84 223.21 L1081.32 222.20 L1081.81 221.20 L1082.28 220.22 L1082.74 219.25 L1083.19 218.28 L1083.65 217.32 L1084.12 216.36 L1084.62 215.40 L1085.15 214.45 L1085.71 213.50 L1086.38 212.48 L1087.07 211.48 L1087.79 210.50 L1088.55 209.51 L1089.33 208.51 L1090.16 207.49 L1091.01 206.42 L1091.90 205.30 L1093.16 203.70 L1094.48 202.00 L1095.86 200.22 L1097.30 198.40 L1098.80 196.56 L1100.36 194.73 L1101.96 192.93 L1103.62 191.20 L1105.53 189.35 L1107.53 187.52 L1109.62 185.70 L1111.76 183.91 L1113.94 182.15 L1116.14 180.41 L1118.32 178.69 L1120.48 177.00 L1122.55 175.38 L1124.63 173.77 L1126.71 172.18 L1128.80 170.61 L1130.89 169.08 L1132.99 167.58 L1135.11 166.12 L1137.24 164.70 L1139.32 163.38 L1141.41 162.10 L1143.51 160.87 L1145.62 159.66 L1147.74 158.48 L1149.86 157.32 L1151.98 156.16 L1154.10 155.00 L1156.18 153.86 L1158.27 152.73 L1160.37 151.61 L1162.46 150.51 L1164.56 149.41 L1166.65 148.33 L1168.75 147.26 L1170.86 146.20 L1172.92 145.16 L1174.96 144.12 L1176.99 143.10 L1179.02 142.09 L1181.08 141.09 L1183.19 140.11 L1185.36 139.14 L1187.62 138.20 L1190.68 137.03 L1194.32 135.75 L1198.22 134.43 L1202.10 133.17 L1205.64 132.04 L1208.55 131.13 L1210.52 130.52 L1211.24 130.30 L1212.57 111.80 L1212.61 111.78 L1212.74 111.72 L1212.93 111.63 L1213.18 111.51 L1213.48 111.37 L1213.82 111.22 L1214.19 111.06 L1214.57 110.90 L1216.24 110.21 L1218.53 109.29 L1221.30 108.19 L1224.43 106.97 L1227.80 105.68 L1231.29 104.39 L1234.76 103.14 L1238.10 102.00 L1241.95 100.75 L1245.89 99.51 L1249.93 98.29 L1254.06 97.09 L1258.31 95.90 L1262.66 94.72 L1267.13 93.56 L1271.71 92.40 L1277.51 91.00 L1283.57 89.59 L1289.83 88.20 L1296.23 86.83 L1302.72 85.49 L1309.23 84.20 L1315.71 82.97 L1322.10 81.80 L1328.42 80.72 L1334.78 79.73 L1341.17 78.79 L1347.56 77.90 L1353.91 77.03 L1360.22 76.17 L1366.45 75.30 L1372.57 74.40 L1378.74 73.45 L1385.67 72.38 L1392.87 71.25 L1399.86 70.15 L1406.15 69.15 L1411.24 68.34 L1414.66 67.80 L1415.90 67.60"/>
<path stroke="#B177DE" d="M518.38 369.70 L518.43 369.93 L518.57 370.54 L518.78 371.47 L519.05 372.61 L519.37 373.88 L519.72 375.20 L520.09 376.46 L520.48 377.60 L520.96 378.88 L521.50 380.20 L522.09 381.55 L522.72 382.92 L523.38 384.28 L524.07 385.63 L524.79 386.94 L525.52 388.20 L526.26 389.40 L527.02 390.59 L527.81 391.76 L528.63 392.91 L529.47 394.02 L530.34 395.10 L531.25 396.12 L532.19 397.10 L533.15 397.99 L534.14 398.84 L535.18 399.64 L536.24 400.40 L537.31 401.14 L538.40 401.84 L539.49 402.53 L540.57 403.20 L541.59 403.81 L542.59 404.39 L543.59 404.93 L544.59 405.45 L545.63 405.97 L546.70 406.49 L547.84 407.03 L549.05 407.60 L550.86 408.45 L552.82 409.35 L554.89 410.29 L557.04 411.24 L559.23 412.18 L561.45 413.08 L563.65 413.93 L565.81 414.70 L567.90 415.38 L569.99 416.00 L572.10 416.57 L574.21 417.11 L576.32 417.63 L578.44 418.12 L580.55 418.61 L582.67 419.10 L584.76 419.58 L586.85 420.05 L588.94 420.51 L591.04 420.95 L593.13 421.38 L595.23 421.80 L597.33 422.21 L599.43 422.60 L601.53 422.98 L603.64 423.34 L605.74 423.70 L607.85 424.04 L609.96 424.37 L612.07 424.69 L614.18 425.00 L616.29 425.30 L618.38 425.59 L620.48 425.87 L622.57 426.14 L624.66 426.41 L626.76 426.66 L628.85 426.91 L630.95 427.16 L633.05 427.40 L635.15 427.64 L637.26 427.88 L639.37 428.12 L641.47 428.35 L643.58 428.57 L645.69 428.79 L647.80 429.00 L649.90 429.20 L651.96 429.38 L653.96 429.55 L655.94 429.71 L657.93 429.86 L659.96 430.01 L662.07 430.16 L664.30 430.33 L666.67 430.50 L670.31 430.77 L674.26 431.05 L678.43 431.34 L682.75 431.64 L687.17 431.95 L691.61 432.26 L696.00 432.58 L700.29 432.90 L704.49 433.21 L708.69 433.52 L712.90 433.83 L717.10 434.15 L721.30 434.48 L725.50 434.83 L729.71 435.20 L733.90 435.60 L738.11 436.04 L742.31 436.51 L746.52 437.01 L750.72 437.53 L754.92 438.05 L759.12 438.58 L763.32 439.10 L767.52 439.60 L771.81 440.09 L776.20 440.58 L780.64 441.07 L785.06 441.56 L789.39 442.05 L793.56 442.53 L797.50 443.02 L801.14 443.50 L803.52 443.83 L805.74 444.16 L807.86 444.48 L809.89 444.80 L811.88 445.13 L813.85 445.47 L815.85 445.83 L817.90 446.20 L820.01 446.59 L822.12 447.00 L824.23 447.42 L826.34 447.85 L828.45 448.29 L830.56 448.74 L832.66 449.21 L834.76 449.70 L836.87 450.20 L838.97 450.70 L841.07 451.21 L843.16 451.74 L845.26 452.29 L847.35 452.86 L849.44 453.46 L851.52 454.10 L853.64 454.78 L855.76 455.49 L857.87 456.23 L859.98 456.99 L862.09 457.78 L864.19 458.60 L866.29 459.44 L868.38 460.30 L870.50 461.18 L872.61 462.07 L874.73 462.98 L876.83 463.92 L878.93 464.89 L881.02 465.93 L883.09 467.02 L885.14 468.20 L887.33 469.55 L889.54 471.00 L891.76 472.53 L893.96 474.12 L896.10 475.74 L898.18 477.38 L900.15 479.00 L902.00 480.60 L903.43 481.90 L904.79 483.18 L906.07 484.46 L907.31 485.75 L908.51 487.06 L909.68 488.40 L910.84 489.77 L912.00 491.20 L913.20 492.76 L914.37 494.38 L915.51 496.05 L916.64 497.74 L917.74 499.45 L918.84 501.16 L919.94 502.85 L921.05 504.50 L922.12 506.04 L923.21 507.55 L924.31 509.04 L925.39 510.53 L926.45 512.03 L927.49 513.56 L928.48 515.15 L929.43 516.80 L930.39 518.65 L931.30 520.57 L932.17 522.54 L933.01 524.56 L933.81 526.59 L934.59 528.64 L935.35 530.68 L936.10 532.70 L936.81 534.67 L937.50 536.63 L938.17 538.59 L938.82 540.56 L939.44 542.55 L940.04 544.54 L940.60 546.56 L941.14 548.60 L941.67 550.74 L942.15 552.92 L942.60 555.11 L943.03 557.32 L943.44 559.54 L943.82 561.76 L944.20 563.99 L944.57 566.20 L944.93 568.41 L945.27 570.62 L945.60 572.83 L945.92 575.04 L946.22 577.26 L946.50 579.47 L946.78 581.69 L947.05 583.90 L947.30 586.08 L947.54 588.22 L947.77 590.34 L947.99 592.47 L948.19 594.63 L948.39 596.84 L948.58 599.13 L948.76 601.50 L948.97 604.46 L949.17 607.44 L949.35 610.47 L949.52 613.60 L949.68 616.87 L949.82 620.33 L949.96 624.03 L950.10 628.00 L950.29 635.16 L950.44 643.00 L950.57 651.45 L950.67 660.42 L950.75 669.84 L950.82 679.63 L950.89 689.71 L950.95 700.00 L951.03 716.53 L951.09 736.68 L951.12 758.68 L951.14 780.71 L951.15 800.97 L951.15 817.68 L951.14 829.02 L951.14 833.20 L951.14 828.96 L951.14 817.48 L951.14 800.60 L951.15 780.18 L951.18 758.06 L951.23 736.09 L951.31 716.12 L951.43 700.00 L951.53 690.75 L951.63 681.77 L951.75 673.11 L951.87 664.84 L952.02 657.01 L952.18 649.68 L952.36 642.93 L952.57 636.80 L952.70 633.60 L952.84 630.68 L952.98 627.98 L953.14 625.43 L953.29 622.98 L953.46 620.57 L953.63 618.13 L953.81 615.60 L953.98 613.13 L954.16 610.66 L954.34 608.22 L954.52 605.78 L954.72 603.36 L954.94 600.96 L955.17 598.57 L955.43 596.20 L955.70 593.95 L955.98 591.71 L956.28 589.49 L956.59 587.28 L956.92 585.09 L957.27 582.91 L957.63 580.75 L958.00 578.60 L958.37 576.56 L958.75 574.53 L959.14 572.52 L959.54 570.52 L959.97 568.54 L960.40 566.57 L960.86 564.63 L961.33 562.70 L961.79 560.89 L962.25 559.09 L962.72 557.32 L963.21 555.55 L963.72 553.81 L964.27 552.07 L964.87 550.33 L965.52 548.60 L966.26 546.80 L967.06 545.00 L967.90 543.21 L968.78 541.43 L969.69 539.66 L970.64 537.91 L971.60 536.19 L972.57 534.50 L973.53 532.87 L974.52 531.25 L975.52 529.64 L976.54 528.06 L977.60 526.51 L978.68 525.00 L979.80 523.52 L980.95 522.10 L982.11 520.76 L983.30 519.45 L984.52 518.18 L985.77 516.94 L987.05 515.74 L988.36 514.58 L989.69 513.47 L991.05 512.40 L992.41 511.40 L993.80 510.46 L995.21 509.58 L996.65 508.73 L998.11 507.90 L999.62 507.08 L1001.17 506.25 L1002.76 505.40 L1004.71 504.39 L1006.74 503.40 L1008.84 502.42 L1010.99 501.43 L1013.16 500.44 L1015.34 499.45 L1017.50 498.43 L1019.62 497.40 L1021.73 496.35 L1023.83 495.29 L1025.93 494.22 L1028.03 493.14 L1030.13 492.05 L1032.22 490.93 L1034.30 489.78 L1036.38 488.60 L1038.49 487.40 L1040.59 486.22 L1042.67 485.04 L1044.75 483.82 L1046.84 482.53 L1048.94 481.16 L1051.07 479.66 L1053.24 478.00 L1056.14 475.58 L1059.19 472.85 L1062.32 469.90 L1065.45 466.80 L1068.53 463.63 L1071.49 460.49 L1074.26 457.45 L1076.76 454.60 L1078.52 452.55 L1080.17 450.59 L1081.72 448.67 L1083.19 446.77 L1084.59 444.86 L1085.93 442.90 L1087.22 440.86 L1088.48 438.70 L1089.75 436.28 L1090.94 433.77 L1092.06 431.20 L1093.12 428.55 L1094.12 425.86 L1095.09 423.11 L1096.03 420.32 L1096.95 417.50 L1097.92 414.35 L1098.84 411.10 L1099.71 407.78 L1100.54 404.42 L1101.34 401.03 L1102.12 397.65 L1102.87 394.30 L1103.62 391.00 L1104.31 387.88 L1104.98 384.79 L1105.62 381.72 L1106.24 378.66 L1106.84 375.59 L1107.45 372.52 L1108.05 369.42 L1108.67 366.30 L1109.31 363.04 L1109.94 359.77 L1110.57 356.47 L1111.20 353.16 L1111.83 349.84 L1112.46 346.53 L1113.08 343.21 L1113.71 339.90 L1114.34 336.58 L1114.97 333.23 L1115.59 329.88 L1116.22 326.53 L1116.84 323.19 L1117.47 319.88 L1118.11 316.62 L1118.76 313.40 L1119.39 310.47 L1120.04 307.60 L1120.71 304.77 L1121.38 301.96 L1122.04 299.15 L1122.67 296.32 L1123.27 293.44 L1123.81 290.50 L1124.30 287.28 L1124.71 283.98 L1125.06 280.63 L1125.38 277.26 L1125.72 273.88 L1126.10 270.53 L1126.57 267.23 L1127.14 264.00 L1127.83 260.93 L1128.63 257.83 L1129.51 254.74 L1130.42 251.68 L1131.34 248.71 L1132.22 245.84 L1133.03 243.13 L1133.71 240.60 L1134.16 238.80 L1134.62 236.88 L1135.06 234.94 L1135.48 233.11 L1135.84 231.48 L1136.13 230.18 L1136.31 229.31 L1136.38 229.00 L1140.19 237.00 L1140.25 236.72 L1140.42 235.96 L1140.68 234.82 L1140.99 233.42 L1141.36 231.88 L1141.74 230.30 L1142.12 228.81 L1142.48 227.50 L1142.80 226.32 L1143.11 225.13 L1143.42 223.95 L1143.74 222.76 L1144.11 221.59 L1144.53 220.44 L1145.03 219.31 L1145.62 218.20 L1146.42 217.00 L1147.33 215.86 L1148.34 214.76 L1149.42 213.67 L1150.56 212.58 L1151.73 211.45 L1152.92 210.27 L1154.10 209.00 L1155.65 207.25 L1157.29 205.40 L1158.99 203.47 L1160.73 201.48 L1162.47 199.44 L1164.21 197.39 L1165.90 195.33 L1167.52 193.30 L1169.05 191.28 L1170.53 189.21 L1171.98 187.11 L1173.41 185.01 L1174.83 182.92 L1176.27 180.88 L1177.73 178.89 L1179.24 177.00 L1180.69 175.29 L1182.19 173.59 L1183.72 171.92 L1185.25 170.29 L1186.77 168.74 L1188.26 167.27 L1189.69 165.92 L1191.05 164.70 L1191.92 163.94 L1192.73 163.26 L1193.50 162.63 L1194.26 162.05 L1195.03 161.49 L1195.85 160.94 L1196.73 160.38 L1197.71 159.80 L1199.26 158.95 L1200.93 158.11 L1202.72 157.27 L1204.60 156.45 L1206.58 155.62 L1208.62 154.81 L1210.72 154.00 L1212.86 153.20 L1215.68 152.20 L1218.65 151.23 L1221.76 150.27 L1224.95 149.32 L1228.22 148.38 L1231.52 147.43 L1234.82 146.47 L1238.10 145.50 L1241.58 144.45 L1245.11 143.40 L1248.68 142.34 L1252.27 141.27 L1255.87 140.20 L1259.48 139.13 L1263.08 138.06 L1266.67 137.00 L1270.63 135.82 L1275.15 134.48 L1279.89 133.07 L1284.52 131.69 L1288.71 130.44 L1292.11 129.43 L1294.40 128.75 L1295.24 128.50 L1296.95 111.80 L1414.57 88.80"/>
<path stroke="#CC9900" d="M504.95 351.20 L505.00 351.35 L505.15 351.76 L505.36 352.38 L505.64 353.14 L505.96 353.99 L506.32 354.87 L506.68 355.73 L507.05 356.50 L507.53 357.45 L508.06 358.45 L508.63 359.48 L509.24 360.53 L509.88 361.56 L510.56 362.57 L511.26 363.52 L512.00 364.40 L512.74 365.18 L513.51 365.90 L514.31 366.59 L515.15 367.24 L516.01 367.86 L516.90 368.48 L517.82 369.09 L518.76 369.70 L519.90 370.42 L521.09 371.13 L522.32 371.84 L523.58 372.52 L524.88 373.19 L526.19 373.83 L527.52 374.43 L528.86 375.00 L530.27 375.55 L531.74 376.07 L533.24 376.56 L534.75 377.01 L536.25 377.43 L537.74 377.82 L539.18 378.18 L540.57 378.50 L541.67 378.73 L542.71 378.92 L543.71 379.08 L544.71 379.21 L545.71 379.34 L546.76 379.48 L547.86 379.63 L549.05 379.80 L550.87 380.08 L552.84 380.39 L554.92 380.72 L557.07 381.06 L559.27 381.41 L561.48 381.75 L563.67 382.08 L565.81 382.40 L567.91 382.71 L570.02 383.01 L572.13 383.31 L574.24 383.60 L576.34 383.89 L578.45 384.17 L580.56 384.44 L582.67 384.70 L584.78 384.95 L586.90 385.18 L589.04 385.41 L591.17 385.62 L593.28 385.84 L595.37 386.05 L597.42 386.27 L599.43 386.50 L601.21 386.73 L603.00 387.00 L604.77 387.28 L606.52 387.55 L608.22 387.80 L609.86 388.01 L611.41 388.15 L612.86 388.20 L613.80 388.17 L614.66 388.08 L615.46 387.95 L616.24 387.80 L617.02 387.65 L617.82 387.52 L618.68 387.43 L619.62 387.40 L621.07 387.45 L622.62 387.56 L624.26 387.74 L625.96 387.96 L627.71 388.22 L629.48 388.50 L631.27 388.80 L633.05 389.10 L635.07 389.45 L637.14 389.82 L639.24 390.23 L641.37 390.66 L643.52 391.11 L645.66 391.59 L647.79 392.09 L649.90 392.60 L652.01 393.15 L654.11 393.76 L656.20 394.39 L658.29 395.04 L660.38 395.69 L662.47 396.33 L664.57 396.93 L666.67 397.50 L668.76 398.01 L670.85 398.49 L672.94 398.94 L675.04 399.38 L677.14 399.81 L679.24 400.26 L681.33 400.71 L683.43 401.20 L685.54 401.72 L687.65 402.25 L689.75 402.80 L691.86 403.36 L693.97 403.92 L696.08 404.48 L698.18 405.04 L700.29 405.60 L702.38 406.15 L704.48 406.70 L706.57 407.25 L708.67 407.80 L710.76 408.35 L712.85 408.90 L714.95 409.45 L717.05 410.00 L719.15 410.55 L721.26 411.10 L723.37 411.65 L725.48 412.20 L727.58 412.75 L729.69 413.30 L731.80 413.85 L733.90 414.40 L736.00 414.94 L738.10 415.48 L740.20 416.01 L742.29 416.55 L744.39 417.09 L746.48 417.64 L748.57 418.21 L750.67 418.80 L752.78 419.42 L754.89 420.06 L756.99 420.72 L759.10 421.40 L761.21 422.07 L763.31 422.75 L765.42 423.43 L767.52 424.10 L769.62 424.76 L771.72 425.40 L773.82 426.05 L775.91 426.70 L778.01 427.35 L780.10 428.02 L782.19 428.70 L784.29 429.40 L786.40 430.13 L788.51 430.89 L790.61 431.66 L792.72 432.45 L794.83 433.24 L796.93 434.03 L799.04 434.82 L801.14 435.60 L803.24 436.36 L805.34 437.11 L807.44 437.86 L809.54 438.60 L811.64 439.36 L813.73 440.14 L815.82 440.95 L817.90 441.80 L820.03 442.70 L822.14 443.63 L824.26 444.57 L826.37 445.55 L828.48 446.55 L830.58 447.57 L832.68 448.62 L834.76 449.70 L836.89 450.82 L839.04 451.97 L841.19 453.14 L843.32 454.34 L845.44 455.57 L847.52 456.82 L849.55 458.10 L851.52 459.40 L853.33 460.63 L855.10 461.86 L856.83 463.10 L858.54 464.37 L860.20 465.69 L861.83 467.05 L863.41 468.49 L864.95 470.00 L866.50 471.67 L868.00 473.44 L869.44 475.28 L870.85 477.18 L872.22 479.12 L873.56 481.08 L874.88 483.04 L876.19 485.00 L877.46 486.96 L878.70 488.95 L879.91 490.97 L881.09 493.00 L882.26 495.03 L883.42 497.05 L884.56 499.04 L885.71 501.00 L886.81 502.79 L887.93 504.55 L889.04 506.28 L890.15 508.00 L891.22 509.73 L892.25 511.48 L893.21 513.26 L894.10 515.10 L894.89 516.99 L895.62 518.91 L896.28 520.85 L896.89 522.83 L897.47 524.82 L898.03 526.83 L898.58 528.86 L899.14 530.90 L899.73 533.08 L900.32 535.33 L900.88 537.62 L901.43 539.91 L901.96 542.19 L902.45 544.41 L902.91 546.56 L903.33 548.60 L903.64 550.13 L903.92 551.60 L904.17 553.01 L904.41 554.40 L904.63 555.77 L904.84 557.15 L905.04 558.55 L905.24 560.00 L905.43 561.58 L905.60 563.19 L905.76 564.81 L905.90 566.44 L906.04 568.08 L906.18 569.73 L906.32 571.37 L906.48 573.00 L906.64 574.62 L906.80 576.24 L906.97 577.86 L907.14 579.48 L907.31 581.11 L907.47 582.73 L907.62 584.36 L907.76 586.00 L907.90 587.69 L908.03 589.42 L908.15 591.16 L908.27 592.89 L908.38 594.61 L908.48 596.30 L908.58 597.93 L908.67 599.50 L908.73 600.71 L908.78 601.86 L908.82 602.95 L908.86 604.03 L908.90 605.12 L908.94 606.24 L908.99 607.43 L909.05 608.70 L909.14 610.60 L909.26 612.66 L909.38 614.82 L909.51 617.06 L909.64 619.32 L909.76 621.56 L909.87 623.73 L909.95 625.80 L910.01 627.53 L910.06 629.22 L910.09 630.88 L910.12 632.51 L910.15 634.13 L910.18 635.75 L910.21 637.37 L910.24 639.00 L910.27 640.63 L910.31 642.26 L910.35 643.88 L910.39 645.51 L910.42 647.13 L910.46 648.75 L910.49 650.38 L910.52 652.00 L910.55 653.59 L910.58 655.14 L910.61 656.67 L910.63 658.21 L910.65 659.78 L910.67 661.42 L910.69 663.15 L910.71 665.00 L910.74 667.85 L910.76 670.88 L910.78 674.06 L910.80 677.40 L910.82 680.87 L910.83 684.47 L910.85 688.18 L910.86 692.00 L910.87 698.06 L910.87 705.43 L910.87 713.46 L910.87 721.49 L910.87 728.87 L910.86 734.95 L910.86 739.08 L910.86 740.60 L910.86 739.08 L910.85 734.95 L910.85 728.87 L910.84 721.49 L910.84 713.46 L910.84 705.43 L910.85 698.06 L910.86 692.00 L910.87 688.18 L910.88 684.47 L910.89 680.87 L910.91 677.40 L910.93 674.06 L910.95 670.88 L910.97 667.85 L911.00 665.00 L911.02 663.15 L911.04 661.42 L911.06 659.78 L911.08 658.21 L911.11 656.67 L911.13 655.14 L911.16 653.59 L911.19 652.00 L911.22 650.38 L911.26 648.75 L911.29 647.13 L911.33 645.51 L911.37 643.88 L911.40 642.26 L911.44 640.63 L911.48 639.00 L911.51 637.37 L911.54 635.75 L911.56 634.13 L911.59 632.51 L911.62 630.88 L911.66 629.22 L911.70 627.53 L911.76 625.80 L911.85 623.73 L911.96 621.56 L912.08 619.32 L912.20 617.06 L912.33 614.82 L912.46 612.66 L912.57 610.60 L912.67 608.70 L912.72 607.43 L912.77 606.24 L912.81 605.12 L912.85 604.03 L912.89 602.95 L912.93 601.86 L912.99 600.71 L913.05 599.50 L913.13 597.93 L913.23 596.30 L913.33 594.61 L913.44 592.89 L913.56 591.16 L913.69 589.42 L913.82 587.69 L913.95 586.00 L914.09 584.36 L914.25 582.73 L914.41 581.11 L914.57 579.48 L914.74 577.86 L914.91 576.24 L915.08 574.62 L915.24 573.00 L915.39 571.38 L915.52 569.77 L915.65 568.16 L915.78 566.55 L915.91 564.93 L916.07 563.31 L916.26 561.66 L916.48 560.00 L916.75 558.18 L917.05 556.35 L917.38 554.49 L917.73 552.63 L918.11 550.75 L918.50 548.87 L918.91 546.99 L919.33 545.10 L919.78 543.12 L920.25 541.12 L920.73 539.11 L921.23 537.09 L921.75 535.08 L922.31 533.09 L922.90 531.13 L923.52 529.20 L924.16 527.37 L924.82 525.58 L925.51 523.80 L926.23 522.04 L926.98 520.30 L927.76 518.56 L928.58 516.83 L929.43 515.10 L930.35 513.29 L931.32 511.47 L932.32 509.66 L933.36 507.86 L934.43 506.08 L935.53 504.32 L936.66 502.59 L937.81 500.90 L938.98 499.27 L940.20 497.68 L941.44 496.11 L942.72 494.56 L944.01 493.04 L945.31 491.54 L946.61 490.06 L947.90 488.60 L949.12 487.23 L950.31 485.92 L951.50 484.64 L952.69 483.37 L953.92 482.10 L955.20 480.79 L956.56 479.43 L958.00 478.00 L960.10 475.93 L962.34 473.74 L964.70 471.46 L967.16 469.12 L969.70 466.76 L972.30 464.41 L974.95 462.12 L977.62 459.90 L980.60 457.58 L983.73 455.27 L986.97 452.99 L990.25 450.74 L993.53 448.53 L996.74 446.37 L999.84 444.25 L1002.76 442.20 L1005.04 440.58 L1007.24 439.05 L1009.38 437.56 L1011.46 436.10 L1013.51 434.63 L1015.55 433.12 L1017.58 431.56 L1019.62 429.90 L1021.76 428.08 L1023.89 426.20 L1026.01 424.27 L1028.10 422.30 L1030.19 420.28 L1032.26 418.22 L1034.33 416.13 L1036.38 414.00 L1038.53 411.67 L1040.68 409.22 L1042.81 406.70 L1044.93 404.15 L1047.03 401.62 L1049.12 399.15 L1051.19 396.80 L1053.24 394.60 L1054.94 392.87 L1056.62 391.23 L1058.28 389.66 L1059.93 388.14 L1061.58 386.65 L1063.24 385.18 L1064.94 383.70 L1066.67 382.20 L1068.53 380.65 L1070.46 379.12 L1072.43 377.62 L1074.42 376.11 L1076.38 374.60 L1078.29 373.07 L1080.11 371.51 L1081.81 369.90 L1083.24 368.44 L1084.60 366.98 L1085.90 365.51 L1087.15 364.02 L1088.36 362.49 L1089.55 360.91 L1090.73 359.25 L1091.90 357.50 L1093.26 355.36 L1094.58 353.11 L1095.87 350.78 L1097.14 348.36 L1098.38 345.88 L1099.60 343.33 L1100.81 340.74 L1102.00 338.10 L1103.32 335.01 L1104.60 331.78 L1105.85 328.46 L1107.07 325.08 L1108.29 321.67 L1109.51 318.26 L1110.74 314.89 L1112.00 311.60 L1113.25 308.46 L1114.53 305.34 L1115.81 302.23 L1117.10 299.14 L1118.38 296.06 L1119.65 293.00 L1120.89 289.94 L1122.10 286.90 L1123.20 284.00 L1124.26 281.13 L1125.30 278.26 L1126.32 275.41 L1127.35 272.56 L1128.39 269.71 L1129.46 266.86 L1130.57 264.00 L1131.76 261.01 L1132.99 257.93 L1134.25 254.82 L1135.53 251.72 L1136.81 248.70 L1138.09 245.80 L1139.34 243.08 L1140.57 240.60 L1141.53 238.83 L1142.60 236.97 L1143.73 235.12 L1144.82 233.37 L1145.80 231.83 L1146.60 230.60 L1147.14 229.79 L1147.33 229.50 L1150.67 239.70 L1150.90 239.25 L1151.54 238.00 L1152.50 236.14 L1153.70 233.84 L1155.04 231.29 L1156.43 228.64 L1157.80 226.09 L1159.05 223.80 L1160.40 221.35 L1161.81 218.81 L1163.26 216.21 L1164.74 213.59 L1166.25 210.98 L1167.77 208.41 L1169.31 205.90 L1170.86 203.50 L1172.28 201.36 L1173.70 199.26 L1175.12 197.20 L1176.57 195.18 L1178.04 193.21 L1179.54 191.29 L1181.08 189.42 L1182.67 187.60 L1184.23 185.91 L1185.82 184.27 L1187.44 182.68 L1189.10 181.13 L1190.79 179.63 L1192.51 178.16 L1194.28 176.72 L1196.10 175.30 L1198.03 173.86 L1200.00 172.48 L1202.00 171.15 L1204.05 169.84 L1206.16 168.56 L1208.32 167.28 L1210.55 166.00 L1212.86 164.70 L1215.71 163.12 L1218.67 161.53 L1221.72 159.93 L1224.86 158.35 L1228.07 156.78 L1231.35 155.24 L1234.70 153.74 L1238.10 152.30 L1242.01 150.75 L1246.07 149.27 L1250.23 147.84 L1254.46 146.45 L1258.73 145.09 L1263.01 143.73 L1267.25 142.37 L1271.43 141.00 L1275.92 139.50 L1281.02 137.80 L1286.37 136.02 L1291.58 134.29 L1296.29 132.73 L1300.11 131.46 L1302.68 130.61 L1303.62 130.30 L1305.33 113.50 L1305.36 113.45 L1305.44 113.32 L1305.57 113.13 L1305.76 112.89 L1306.00 112.62 L1306.29 112.33 L1306.64 112.05 L1307.05 111.80 L1313.26 109.76 L1325.01 106.92 L1340.33 103.60 L1357.26 100.13 L1373.85 96.85 L1388.13 94.10 L1398.13 92.21 L1401.90 91.50"/>
<path stroke="#00CBCC" d="M400.76 332.60 L400.92 332.92 L401.35 333.80 L401.99 335.10 L402.78 336.68 L403.66 338.42 L404.56 340.18 L405.43 341.81 L406.19 343.20 L406.80 344.29 L407.39 345.38 L407.97 346.45 L408.56 347.50 L409.17 348.51 L409.82 349.47 L410.50 350.37 L411.24 351.20 L411.96 351.89 L412.71 352.51 L413.48 353.08 L414.28 353.61 L415.12 354.11 L416.00 354.60 L416.92 355.09 L417.90 355.60 L419.33 356.30 L420.86 357.00 L422.49 357.68 L424.19 358.36 L425.94 359.02 L427.73 359.66 L429.54 360.29 L431.33 360.90 L433.34 361.55 L435.40 362.17 L437.50 362.78 L439.63 363.36 L441.77 363.93 L443.92 364.49 L446.07 365.05 L448.19 365.60 L450.28 366.14 L452.38 366.68 L454.47 367.21 L456.56 367.72 L458.66 368.23 L460.75 368.73 L462.85 369.22 L464.95 369.70 L467.05 370.17 L469.16 370.61 L471.27 371.05 L473.38 371.48 L475.49 371.91 L477.60 372.33 L479.70 372.76 L481.81 373.20 L483.91 373.65 L486.00 374.09 L488.10 374.55 L490.19 375.00 L492.28 375.45 L494.38 375.91 L496.47 376.35 L498.57 376.80 L500.68 377.25 L502.78 377.70 L504.89 378.16 L506.99 378.61 L509.10 379.06 L511.21 379.49 L513.32 379.91 L515.43 380.30 L517.52 380.67 L519.62 381.01 L521.71 381.33 L523.81 381.65 L525.90 381.96 L528.00 382.26 L530.09 382.58 L532.19 382.90 L534.30 383.23 L536.40 383.57 L538.51 383.91 L540.62 384.25 L542.73 384.59 L544.84 384.93 L546.94 385.27 L549.05 385.60 L551.14 385.93 L553.24 386.24 L555.34 386.56 L557.43 386.87 L559.53 387.19 L561.62 387.51 L563.71 387.85 L565.81 388.20 L567.92 388.57 L570.02 388.96 L572.13 389.37 L574.24 389.78 L576.35 390.19 L578.45 390.60 L580.56 391.01 L582.67 391.40 L584.76 391.79 L586.86 392.17 L588.95 392.55 L591.05 392.93 L593.14 393.31 L595.23 393.68 L597.33 394.04 L599.43 394.40 L601.53 394.75 L603.64 395.09 L605.75 395.42 L607.86 395.74 L609.97 396.07 L612.08 396.40 L614.18 396.75 L616.29 397.10 L618.38 397.46 L620.48 397.83 L622.58 398.20 L624.67 398.58 L626.77 398.96 L628.86 399.36 L630.95 399.77 L633.05 400.20 L635.16 400.66 L637.26 401.15 L639.37 401.66 L641.47 402.18 L643.58 402.69 L645.69 403.19 L647.80 403.66 L649.90 404.10 L652.00 404.48 L654.09 404.82 L656.19 405.14 L658.29 405.44 L660.39 405.74 L662.48 406.06 L664.58 406.41 L666.67 406.80 L668.77 407.24 L670.87 407.70 L672.97 408.19 L675.06 408.69 L677.15 409.22 L679.25 409.76 L681.34 410.32 L683.43 410.90 L685.54 411.50 L687.66 412.11 L689.77 412.73 L691.88 413.38 L693.99 414.04 L696.09 414.74 L698.19 415.45 L700.29 416.20 L702.40 417.00 L704.50 417.83 L706.59 418.70 L708.68 419.59 L710.77 420.50 L712.86 421.41 L714.95 422.31 L717.05 423.20 L719.16 424.07 L721.27 424.93 L723.38 425.79 L725.50 426.65 L727.61 427.52 L729.71 428.41 L731.81 429.34 L733.90 430.30 L736.02 431.32 L738.12 432.37 L740.22 433.45 L742.32 434.55 L744.41 435.67 L746.49 436.81 L748.58 437.95 L750.67 439.10 L752.78 440.26 L754.90 441.42 L757.02 442.58 L759.14 443.76 L761.25 444.96 L763.36 446.20 L765.45 447.47 L767.52 448.80 L769.68 450.23 L771.85 451.70 L774.03 453.21 L776.19 454.77 L778.31 456.35 L780.38 457.95 L782.38 459.57 L784.29 461.20 L785.93 462.66 L787.51 464.10 L789.04 465.55 L790.52 467.02 L791.96 468.54 L793.36 470.11 L794.74 471.76 L796.10 473.50 L797.58 475.58 L799.03 477.81 L800.44 480.14 L801.81 482.53 L803.13 484.96 L804.40 487.39 L805.61 489.78 L806.76 492.10 L807.74 494.11 L808.66 496.10 L809.54 498.06 L810.37 500.02 L811.17 501.98 L811.95 503.96 L812.70 505.96 L813.43 508.00 L814.16 510.13 L814.86 512.28 L815.54 514.46 L816.18 516.65 L816.80 518.86 L817.38 521.09 L817.94 523.34 L818.48 525.60 L818.99 528.00 L819.47 530.45 L819.92 532.93 L820.34 535.43 L820.73 537.92 L821.11 540.38 L821.46 542.78 L821.81 545.10 L822.10 547.06 L822.38 548.98 L822.65 550.87 L822.90 552.73 L823.13 554.57 L823.35 556.39 L823.54 558.20 L823.71 560.00 L823.85 561.66 L823.95 563.29 L824.03 564.90 L824.10 566.49 L824.16 568.09 L824.22 569.70 L824.29 571.34 L824.38 573.00 L824.49 574.82 L824.61 576.67 L824.74 578.55 L824.87 580.43 L825.00 582.33 L825.13 584.22 L825.26 586.12 L825.38 588.00 L825.50 589.90 L825.63 591.82 L825.75 593.76 L825.87 595.69 L825.99 597.60 L826.10 599.46 L826.20 601.27 L826.29 603.00 L826.34 604.31 L826.39 605.53 L826.44 606.69 L826.47 607.83 L826.51 608.99 L826.54 610.22 L826.58 611.54 L826.62 613.00 L826.69 615.71 L826.78 618.79 L826.86 622.13 L826.95 625.63 L827.03 629.17 L827.11 632.66 L827.18 635.97 L827.24 639.00 L827.27 641.18 L827.30 643.27 L827.32 645.28 L827.34 647.23 L827.36 649.16 L827.38 651.08 L827.40 653.02 L827.43 655.00 L827.46 657.25 L827.51 659.83 L827.55 662.53 L827.60 665.18 L827.64 667.57 L827.68 669.51 L827.71 670.82 L827.71 671.30 L827.71 670.82 L827.69 669.51 L827.66 667.57 L827.62 665.18 L827.59 662.53 L827.56 659.83 L827.54 657.25 L827.52 655.00 L827.52 653.02 L827.52 651.08 L827.52 649.16 L827.53 647.23 L827.55 645.28 L827.56 643.27 L827.59 641.18 L827.62 639.00 L827.67 635.97 L827.74 632.66 L827.81 629.17 L827.90 625.63 L827.99 622.13 L828.08 618.79 L828.16 615.71 L828.24 613.00 L828.28 611.54 L828.32 610.22 L828.35 608.99 L828.38 607.83 L828.42 606.69 L828.46 605.53 L828.51 604.31 L828.57 603.00 L828.66 601.27 L828.76 599.46 L828.87 597.60 L828.98 595.69 L829.11 593.76 L829.23 591.82 L829.35 589.90 L829.48 588.00 L829.60 586.12 L829.73 584.22 L829.86 582.33 L829.99 580.43 L830.12 578.55 L830.24 576.67 L830.36 574.82 L830.48 573.00 L830.57 571.34 L830.65 569.71 L830.72 568.10 L830.79 566.50 L830.86 564.90 L830.94 563.29 L831.03 561.66 L831.14 560.00 L831.28 558.19 L831.42 556.38 L831.57 554.55 L831.74 552.70 L831.92 550.83 L832.11 548.94 L832.33 547.03 L832.57 545.10 L832.86 542.91 L833.17 540.67 L833.50 538.39 L833.86 536.09 L834.23 533.78 L834.64 531.49 L835.07 529.22 L835.52 527.00 L836.00 524.89 L836.50 522.77 L837.03 520.67 L837.58 518.59 L838.15 516.53 L838.73 514.51 L839.32 512.53 L839.90 510.60 L840.43 508.92 L840.96 507.25 L841.49 505.61 L842.03 503.99 L842.58 502.42 L843.14 500.89 L843.71 499.42 L844.29 498.00 L844.76 496.91 L845.24 495.90 L845.71 494.95 L846.19 494.02 L846.69 493.08 L847.20 492.10 L847.73 491.05 L848.29 489.90 L849.13 488.01 L850.01 485.91 L850.92 483.66 L851.87 481.32 L852.86 478.97 L853.90 476.65 L854.97 474.44 L856.10 472.40 L857.16 470.67 L858.28 468.99 L859.45 467.37 L860.64 465.79 L861.86 464.27 L863.08 462.79 L864.31 461.37 L865.52 460.00 L866.59 458.85 L867.65 457.77 L868.73 456.74 L869.80 455.74 L870.89 454.76 L871.98 453.78 L873.08 452.80 L874.19 451.80 L875.34 450.75 L876.50 449.68 L877.67 448.61 L878.84 447.55 L880.03 446.49 L881.22 445.46 L882.42 444.46 L883.62 443.50 L884.78 442.61 L885.97 441.74 L887.16 440.90 L888.35 440.07 L889.55 439.27 L890.73 438.49 L891.90 437.74 L893.05 437.00 L894.05 436.37 L895.04 435.77 L896.02 435.19 L896.99 434.62 L897.95 434.07 L898.92 433.52 L899.88 432.96 L900.86 432.40 L901.83 431.83 L902.80 431.25 L903.77 430.67 L904.75 430.10 L905.72 429.53 L906.70 428.97 L907.68 428.43 L908.67 427.90 L909.65 427.40 L910.63 426.92 L911.62 426.46 L912.61 426.01 L913.60 425.56 L914.59 425.11 L915.58 424.66 L916.57 424.20 L917.55 423.74 L918.53 423.27 L919.50 422.80 L920.48 422.33 L921.45 421.86 L922.42 421.40 L923.40 420.94 L924.38 420.50 L925.35 420.07 L926.33 419.64 L927.30 419.22 L928.27 418.80 L929.25 418.39 L930.23 417.99 L931.21 417.59 L932.19 417.20 L933.17 416.82 L934.16 416.44 L935.15 416.07 L936.14 415.70 L937.13 415.34 L938.12 414.99 L939.11 414.64 L940.10 414.30 L941.07 413.97 L942.05 413.65 L943.02 413.33 L944.00 413.02 L944.97 412.71 L945.95 412.41 L946.93 412.10 L947.90 411.80 L948.88 411.49 L949.83 411.19 L950.77 410.89 L951.72 410.59 L952.68 410.29 L953.68 409.99 L954.72 409.69 L955.81 409.40 L957.29 409.03 L958.85 408.66 L960.48 408.29 L962.15 407.93 L963.87 407.57 L965.61 407.21 L967.38 406.85 L969.14 406.50 L971.15 406.11 L973.22 405.74 L975.32 405.38 L977.46 405.02 L979.60 404.65 L981.75 404.26 L983.89 403.85 L986.00 403.40 L988.10 402.92 L990.20 402.41 L992.30 401.88 L994.40 401.33 L996.49 400.77 L998.58 400.19 L1000.67 399.60 L1002.76 399.00 L1004.87 398.37 L1006.98 397.72 L1009.09 397.04 L1011.19 396.35 L1013.30 395.66 L1015.40 394.98 L1017.51 394.33 L1019.62 393.70 L1021.71 393.10 L1023.80 392.52 L1025.89 391.95 L1027.99 391.39 L1030.08 390.85 L1032.18 390.32 L1034.28 389.80 L1036.38 389.30 L1038.48 388.82 L1040.59 388.37 L1042.69 387.93 L1044.80 387.50 L1046.91 387.08 L1049.02 386.66 L1051.13 386.24 L1053.24 385.80 L1055.35 385.35 L1057.49 384.90 L1059.64 384.44 L1061.78 383.98 L1063.90 383.53 L1065.99 383.08 L1068.03 382.63 L1070.00 382.20 L1071.66 381.86 L1073.31 381.55 L1074.93 381.26 L1076.52 380.96 L1078.07 380.65 L1079.57 380.30 L1081.01 379.89 L1082.38 379.40 L1083.49 378.91 L1084.56 378.36 L1085.60 377.76 L1086.60 377.14 L1087.56 376.51 L1088.48 375.90 L1089.36 375.32 L1090.19 374.80 L1090.73 374.46 L1091.22 374.12 L1091.68 373.79 L1092.12 373.48 L1092.56 373.18 L1093.03 372.90 L1093.53 372.64 L1094.10 372.40 L1094.94 372.15 L1095.86 371.97 L1096.85 371.84 L1097.87 371.73 L1098.92 371.63 L1099.97 371.51 L1101.00 371.34 L1102.00 371.10 L1102.99 370.79 L1103.98 370.45 L1104.97 370.08 L1105.95 369.68 L1106.92 369.25 L1107.89 368.79 L1108.85 368.31 L1109.81 367.80 L1110.81 367.24 L1111.80 366.64 L1112.79 366.02 L1113.76 365.37 L1114.74 364.69 L1115.70 363.98 L1116.66 363.25 L1117.62 362.50 L1118.63 361.68 L1119.65 360.84 L1120.66 359.98 L1121.66 359.08 L1122.65 358.15 L1123.62 357.18 L1124.58 356.17 L1125.52 355.10 L1126.56 353.83 L1127.58 352.50 L1128.58 351.12 L1129.55 349.68 L1130.52 348.19 L1131.47 346.67 L1132.40 345.10 L1133.33 343.50 L1134.37 341.62 L1135.40 339.67 L1136.40 337.66 L1137.38 335.60 L1138.36 333.51 L1139.32 331.38 L1140.28 329.24 L1141.24 327.10 L1142.24 324.81 L1143.22 322.48 L1144.20 320.12 L1145.16 317.73 L1146.12 315.33 L1147.09 312.92 L1148.06 310.51 L1149.05 308.10 L1150.07 305.63 L1151.10 303.15 L1152.13 300.68 L1153.17 298.19 L1154.21 295.69 L1155.27 293.16 L1156.34 290.60 L1157.43 288.00 L1158.64 285.10 L1159.88 282.14 L1161.14 279.14 L1162.41 276.11 L1163.69 273.07 L1164.97 270.02 L1166.25 267.00 L1167.52 264.00 L1168.81 261.00 L1170.14 257.91 L1171.50 254.80 L1172.84 251.71 L1174.15 248.70 L1175.40 245.80 L1176.57 243.09 L1177.62 240.60 L1178.31 238.94 L1179.03 237.17 L1179.75 235.40 L1180.42 233.72 L1181.01 232.24 L1181.48 231.06 L1181.79 230.28 L1181.90 230.00 L1186.00 237.00 L1186.28 236.37 L1187.06 234.66 L1188.23 232.11 L1189.67 229.00 L1191.29 225.56 L1192.97 222.06 L1194.61 218.76 L1196.10 215.90 L1197.46 213.40 L1198.86 210.91 L1200.28 208.45 L1201.72 206.01 L1203.20 203.60 L1204.71 201.20 L1206.24 198.84 L1207.81 196.50 L1209.39 194.20 L1211.00 191.93 L1212.63 189.68 L1214.29 187.46 L1215.99 185.26 L1217.72 183.09 L1219.50 180.93 L1221.33 178.80 L1223.26 176.63 L1225.22 174.50 L1227.22 172.40 L1229.26 170.33 L1231.36 168.26 L1233.53 166.19 L1235.77 164.11 L1238.10 162.00 L1240.94 159.45 L1243.91 156.80 L1246.99 154.10 L1250.15 151.41 L1253.39 148.79 L1256.68 146.28 L1260.00 143.93 L1263.33 141.80 L1266.93 139.84 L1271.12 137.85 L1275.57 135.92 L1279.95 134.14 L1283.94 132.59 L1287.19 131.38 L1289.38 130.58 L1290.19 130.30 L1290.28 129.57 L1290.52 127.62 L1290.89 124.80 L1291.35 121.46 L1291.87 117.96 L1292.43 114.65 L1292.99 111.88 L1293.52 110.00 L1293.75 109.50 L1294.02 109.02 L1294.30 108.58 L1294.58 108.19 L1294.84 107.86 L1295.05 107.61 L1295.19 107.46 L1295.24 107.40"/>
<path stroke="#7D4E4E" d="M433.05 345.00 L433.11 345.23 L433.30 345.87 L433.57 346.82 L433.92 347.98 L434.33 349.26 L434.76 350.57 L435.20 351.82 L435.62 352.90 L436.06 353.92 L436.53 354.95 L437.03 355.98 L437.54 357.01 L438.08 358.02 L438.64 359.01 L439.22 359.97 L439.81 360.90 L440.38 361.74 L440.97 362.55 L441.57 363.34 L442.19 364.11 L442.83 364.87 L443.49 365.61 L444.16 366.36 L444.86 367.10 L445.62 367.90 L446.42 368.72 L447.23 369.53 L448.07 370.33 L448.92 371.10 L449.78 371.85 L450.65 372.55 L451.52 373.20 L452.33 373.74 L453.14 374.24 L453.95 374.69 L454.78 375.12 L455.62 375.53 L456.48 375.94 L457.37 376.36 L458.29 376.80 L459.43 377.34 L460.62 377.89 L461.85 378.43 L463.10 378.98 L464.39 379.53 L465.70 380.08 L467.03 380.64 L468.38 381.20 L469.99 381.85 L471.68 382.50 L473.42 383.16 L475.18 383.82 L476.93 384.49 L478.64 385.16 L480.28 385.83 L481.81 386.50 L482.96 387.06 L484.05 387.65 L485.10 388.24 L486.12 388.83 L487.12 389.41 L488.12 389.96 L489.14 390.46 L490.19 390.90 L491.22 391.26 L492.26 391.58 L493.31 391.85 L494.35 392.10 L495.41 392.33 L496.46 392.54 L497.52 392.77 L498.57 393.00 L499.63 393.24 L500.69 393.47 L501.75 393.69 L502.81 393.91 L503.87 394.13 L504.93 394.35 L505.99 394.57 L507.05 394.80 L508.08 395.03 L509.08 395.26 L510.07 395.50 L511.06 395.73 L512.07 395.97 L513.13 396.21 L514.24 396.45 L515.43 396.70 L517.25 397.07 L519.21 397.47 L521.28 397.88 L523.44 398.29 L525.64 398.69 L527.85 399.07 L530.05 399.41 L532.19 399.70 L534.29 399.94 L536.40 400.13 L538.50 400.29 L540.61 400.42 L542.72 400.54 L544.83 400.65 L546.94 400.77 L549.05 400.90 L551.14 401.04 L553.24 401.17 L555.34 401.29 L557.43 401.41 L559.52 401.54 L561.62 401.68 L563.71 401.83 L565.81 402.00 L567.92 402.19 L570.02 402.40 L572.13 402.63 L574.24 402.86 L576.35 403.10 L578.45 403.34 L580.56 403.57 L582.67 403.80 L584.76 404.02 L586.86 404.23 L588.95 404.44 L591.05 404.65 L593.14 404.86 L595.24 405.07 L597.33 405.28 L599.43 405.50 L601.53 405.72 L603.64 405.94 L605.75 406.17 L607.86 406.39 L609.97 406.62 L612.07 406.85 L614.18 407.07 L616.29 407.30 L618.38 407.53 L620.48 407.75 L622.57 407.98 L624.67 408.21 L626.76 408.43 L628.85 408.66 L630.95 408.88 L633.05 409.10 L635.15 409.32 L637.26 409.54 L639.37 409.77 L641.47 409.99 L643.58 410.20 L645.69 410.41 L647.80 410.61 L649.90 410.80 L652.00 410.97 L654.10 411.11 L656.20 411.23 L658.29 411.36 L660.39 411.48 L662.48 411.63 L664.57 411.80 L666.67 412.00 L668.76 412.24 L670.86 412.49 L672.96 412.77 L675.05 413.06 L677.15 413.37 L679.24 413.70 L681.34 414.04 L683.43 414.40 L685.54 414.79 L687.65 415.21 L689.75 415.65 L691.86 416.11 L693.97 416.58 L696.07 417.03 L698.18 417.48 L700.29 417.90 L702.38 418.30 L704.47 418.70 L706.57 419.09 L708.66 419.47 L710.76 419.85 L712.85 420.21 L714.95 420.56 L717.05 420.90 L719.15 421.22 L721.26 421.51 L723.37 421.80 L725.47 422.07 L727.58 422.34 L729.69 422.61 L731.80 422.90 L733.90 423.20 L736.00 423.52 L738.10 423.85 L740.19 424.19 L742.29 424.53 L744.38 424.88 L746.47 425.22 L748.57 425.56 L750.67 425.90 L752.77 426.23 L754.88 426.55 L756.99 426.88 L759.10 427.20 L761.20 427.52 L763.31 427.85 L765.42 428.17 L767.52 428.50 L769.62 428.83 L771.72 429.17 L773.81 429.51 L775.90 429.85 L778.00 430.19 L780.09 430.53 L782.19 430.87 L784.29 431.20 L786.39 431.52 L788.50 431.83 L790.61 432.14 L792.72 432.44 L794.83 432.76 L796.94 433.08 L799.04 433.43 L801.14 433.80 L803.25 434.19 L805.35 434.58 L807.45 434.99 L809.54 435.41 L811.64 435.85 L813.73 436.33 L815.82 436.84 L817.90 437.40 L820.03 438.01 L822.14 438.64 L824.26 439.32 L826.37 440.02 L828.48 440.76 L830.58 441.54 L832.68 442.35 L834.76 443.20 L836.91 444.10 L839.08 445.05 L841.25 446.02 L843.41 447.04 L845.54 448.09 L847.61 449.18 L849.61 450.32 L851.52 451.50 L853.16 452.59 L854.74 453.72 L856.26 454.88 L857.74 456.07 L859.18 457.29 L860.58 458.56 L861.97 459.86 L863.33 461.20 L864.70 462.61 L866.04 464.06 L867.34 465.55 L868.62 467.08 L869.86 468.64 L871.08 470.24 L872.27 471.86 L873.43 473.50 L874.59 475.21 L875.72 476.95 L876.83 478.72 L877.91 480.52 L878.95 482.35 L879.95 484.21 L880.90 486.09 L881.81 488.00 L882.67 489.97 L883.48 491.98 L884.24 494.03 L884.95 496.09 L885.64 498.18 L886.30 500.28 L886.96 502.39 L887.62 504.50 L888.29 506.66 L888.96 508.84 L889.62 511.03 L890.26 513.23 L890.88 515.44 L891.45 517.66 L891.99 519.88 L892.48 522.10 L892.90 524.30 L893.26 526.50 L893.59 528.70 L893.88 530.91 L894.15 533.13 L894.41 535.35 L894.67 537.57 L894.95 539.80 L895.25 542.06 L895.55 544.32 L895.86 546.58 L896.15 548.85 L896.44 551.13 L896.70 553.41 L896.94 555.70 L897.14 558.00 L897.31 560.36 L897.45 562.75 L897.56 565.16 L897.65 567.57 L897.72 569.97 L897.79 572.35 L897.87 574.70 L897.95 577.00 L898.04 579.05 L898.12 581.05 L898.20 583.02 L898.27 584.97 L898.35 586.93 L898.42 588.91 L898.50 590.92 L898.57 593.00 L898.65 595.42 L898.74 597.94 L898.82 600.53 L898.90 603.13 L898.97 605.72 L899.05 608.25 L899.12 610.69 L899.19 613.00 L899.24 614.76 L899.30 616.45 L899.35 618.08 L899.40 619.67 L899.44 621.25 L899.49 622.82 L899.53 624.39 L899.57 626.00 L899.61 627.63 L899.65 629.28 L899.68 630.93 L899.71 632.58 L899.74 634.21 L899.77 635.83 L899.79 637.43 L899.81 639.00 L899.82 640.55 L899.82 642.28 L899.82 644.07 L899.82 645.81 L899.82 647.38 L899.81 648.64 L899.81 649.49 L899.81 649.80 L899.81 649.49 L899.80 648.64 L899.80 647.38 L899.80 645.81 L899.79 644.07 L899.79 642.28 L899.80 640.55 L899.81 639.00 L899.83 637.43 L899.85 635.83 L899.87 634.21 L899.90 632.58 L899.94 630.93 L899.97 629.28 L900.01 627.63 L900.05 626.00 L900.09 624.39 L900.13 622.82 L900.18 621.25 L900.22 619.67 L900.27 618.08 L900.32 616.45 L900.37 614.76 L900.43 613.00 L900.50 610.69 L900.57 608.25 L900.65 605.72 L900.72 603.13 L900.80 600.53 L900.88 597.94 L900.97 595.42 L901.05 593.00 L901.12 590.92 L901.20 588.91 L901.27 586.93 L901.35 584.97 L901.43 583.02 L901.51 581.05 L901.59 579.05 L901.67 577.00 L901.75 574.72 L901.82 572.41 L901.89 570.08 L901.97 567.73 L902.05 565.34 L902.14 562.93 L902.25 560.48 L902.38 558.00 L902.55 555.15 L902.73 552.19 L902.92 549.16 L903.14 546.11 L903.37 543.08 L903.62 540.10 L903.89 537.23 L904.19 534.50 L904.45 532.35 L904.72 530.28 L905.01 528.26 L905.31 526.28 L905.63 524.34 L905.96 522.43 L906.31 520.51 L906.67 518.60 L907.03 516.80 L907.40 515.03 L907.79 513.29 L908.19 511.56 L908.61 509.82 L909.03 508.08 L909.47 506.31 L909.90 504.50 L910.39 502.47 L910.90 500.38 L911.42 498.25 L911.95 496.11 L912.49 493.99 L913.02 491.91 L913.56 489.91 L914.10 488.00 L914.53 486.51 L914.97 485.08 L915.42 483.69 L915.86 482.34 L916.30 481.00 L916.74 479.68 L917.18 478.35 L917.62 477.00 L918.03 475.69 L918.41 474.41 L918.78 473.15 L919.15 471.89 L919.54 470.60 L919.96 469.29 L920.43 467.93 L920.95 466.50 L921.73 464.46 L922.57 462.26 L923.47 459.96 L924.44 457.61 L925.46 455.27 L926.54 452.98 L927.68 450.81 L928.86 448.80 L929.97 447.15 L931.15 445.62 L932.38 444.17 L933.65 442.78 L934.94 441.40 L936.27 440.00 L937.61 438.54 L938.95 437.00 L940.53 435.10 L942.13 433.14 L943.76 431.12 L945.42 429.07 L947.11 426.99 L948.83 424.91 L950.59 422.84 L952.38 420.80 L954.35 418.60 L956.37 416.37 L958.44 414.12 L960.54 411.88 L962.67 409.67 L964.82 407.50 L966.98 405.41 L969.14 403.40 L971.20 401.58 L973.27 399.83 L975.37 398.12 L977.48 396.46 L979.60 394.85 L981.73 393.27 L983.86 391.72 L986.00 390.20 L988.07 388.77 L990.15 387.38 L992.24 386.04 L994.33 384.72 L996.44 383.42 L998.54 382.14 L1000.65 380.87 L1002.76 379.60 L1004.86 378.35 L1006.96 377.14 L1009.08 375.94 L1011.19 374.75 L1013.30 373.56 L1015.42 372.36 L1017.52 371.15 L1019.62 369.90 L1021.73 368.61 L1023.83 367.31 L1025.92 365.98 L1028.01 364.65 L1030.10 363.31 L1032.19 361.97 L1034.28 360.63 L1036.38 359.30 L1038.49 357.97 L1040.59 356.65 L1042.70 355.32 L1044.81 354.00 L1046.92 352.68 L1049.03 351.35 L1051.13 350.03 L1053.24 348.70 L1055.34 347.38 L1057.43 346.05 L1059.53 344.73 L1061.62 343.40 L1063.71 342.07 L1065.81 340.75 L1067.90 339.42 L1070.00 338.10 L1072.10 336.77 L1074.21 335.45 L1076.32 334.12 L1078.43 332.80 L1080.54 331.48 L1082.65 330.15 L1084.75 328.83 L1086.86 327.50 L1088.96 326.19 L1091.06 324.88 L1093.16 323.59 L1095.26 322.29 L1097.36 320.98 L1099.45 319.65 L1101.54 318.29 L1103.62 316.90 L1105.75 315.46 L1107.88 314.02 L1110.02 312.57 L1112.14 311.09 L1114.26 309.57 L1116.36 307.99 L1118.43 306.34 L1120.48 304.60 L1122.64 302.63 L1124.77 300.57 L1126.86 298.43 L1128.94 296.23 L1131.01 293.96 L1133.08 291.65 L1135.15 289.29 L1137.24 286.90 L1139.56 284.21 L1141.91 281.43 L1144.27 278.58 L1146.63 275.67 L1148.97 272.74 L1151.27 269.81 L1153.52 266.88 L1155.71 264.00 L1157.73 261.26 L1159.72 258.47 L1161.68 255.66 L1163.60 252.86 L1165.48 250.10 L1167.32 247.42 L1169.11 244.84 L1170.86 242.40 L1172.34 240.39 L1173.98 238.21 L1175.66 235.99 L1177.28 233.87 L1178.72 231.99 L1179.89 230.47 L1180.67 229.47 L1180.95 229.10 L1181.01 229.50 L1181.19 230.57 L1181.48 232.11 L1181.85 233.91 L1182.30 235.77 L1182.82 237.49 L1183.39 238.87 L1184.00 239.70 L1184.44 239.92 L1184.98 240.02 L1185.58 240.04 L1186.18 239.99 L1186.73 239.90 L1187.19 239.81 L1187.50 239.73 L1187.62 239.70 L1188.11 239.11 L1189.47 237.49 L1191.48 235.09 L1193.95 232.13 L1196.69 228.84 L1199.49 225.47 L1202.15 222.25 L1204.48 219.40 L1206.59 216.77 L1208.69 214.10 L1210.79 211.41 L1212.88 208.72 L1214.98 206.03 L1217.08 203.37 L1219.20 200.76 L1221.33 198.20 L1223.40 195.79 L1225.48 193.41 L1227.56 191.07 L1229.65 188.75 L1231.75 186.45 L1233.86 184.18 L1235.98 181.93 L1238.10 179.70 L1240.16 177.52 L1242.23 175.35 L1244.30 173.18 L1246.38 171.04 L1248.47 168.94 L1250.58 166.89 L1252.70 164.90 L1254.86 163.00 L1256.91 161.27 L1258.98 159.58 L1261.07 157.93 L1263.17 156.34 L1265.28 154.81 L1267.41 153.34 L1269.56 151.93 L1271.71 150.60 L1273.77 149.41 L1275.84 148.30 L1277.93 147.25 L1280.02 146.26 L1282.13 145.31 L1284.24 144.39 L1286.36 143.49 L1288.48 142.60 L1290.55 141.75 L1292.60 140.94 L1294.65 140.16 L1296.71 139.40 L1298.80 138.66 L1300.92 137.94 L1303.09 137.22 L1305.33 136.50 L1308.31 135.60 L1311.81 134.60 L1315.56 133.57 L1319.28 132.57 L1322.66 131.68 L1325.44 130.96 L1327.31 130.48 L1328.00 130.30"/>
</g>
<line shape-rendering="crispEdges" transform="scale(1.15 1)" x1="751.30" y1="560.30" x2="688.45" y2="623.32" stroke="#33FFFF" stroke-width="2.9"/>
<polygon shape-rendering="crispEdges" transform="scale(1.2 1)" fill="#33FFFF" stroke="#33FFFF" stroke-width="1.4" stroke-linejoin="round" points="645.25,638.50 657.35,616.87 666.32,625.44"/>
<line shape-rendering="crispEdges" transform="scale(1.15 1)" x1="821.39" y1="647.50" x2="758.16" y2="710.38" stroke="#800000" stroke-width="2.9"/>
<polygon shape-rendering="crispEdges" transform="scale(1.2 1)" fill="#800000" stroke="#800000" stroke-width="1.4" stroke-linejoin="round" points="712.00,725.50 724.19,703.92 733.12,712.52"/>
<line shape-rendering="crispEdges" transform="scale(1.15 1)" x1="799.57" y1="717.50" x2="737.25" y2="779.84" stroke="#000000" stroke-width="2.9"/>
<polygon shape-rendering="crispEdges" transform="scale(1.2 1)" fill="#000000" stroke="#000000" stroke-width="1.4" stroke-linejoin="round" points="692.00,795.00 704.13,773.38 713.08,781.96"/>
<line shape-rendering="crispEdges" transform="scale(1.15 1)" x1="831.57" y1="740.00" x2="769.45" y2="801.87" stroke="#A67C13" stroke-width="2.9"/>
<polygon shape-rendering="crispEdges" transform="scale(1.2 1)" fill="#A67C13" stroke="#A67C13" stroke-width="1.4" stroke-linejoin="round" points="722.83,817.00 735.01,795.41 743.94,804.00"/>
<line shape-rendering="crispEdges" transform="scale(1.15 1)" x1="868.70" y1="833.20" x2="806.37" y2="896.25" stroke="#8000FF" stroke-width="2.9"/>
<polygon shape-rendering="crispEdges" transform="scale(1.2 1)" fill="#8000FF" stroke="#8000FF" stroke-width="1.4" stroke-linejoin="round" points="758.33,911.50 770.34,889.81 779.34,898.34"/>
<line shape-rendering="crispEdges" transform="scale(1.15 1)" x1="863.13" y1="707.60" x2="960.93" y2="806.55" stroke="#FF0000" stroke-width="2.9"/>
<polygon shape-rendering="crispEdges" transform="scale(1.2 1)" fill="#FF0000" stroke="#FF0000" stroke-width="1.4" stroke-linejoin="round" points="935.33,821.80 914.33,808.64 923.33,800.11"/>
<line shape-rendering="crispEdges" transform="scale(1.4 1)" x1="772.43" y1="733.00" x2="772.43" y2="892.50" stroke="#0000FF" stroke-width="2.0"/>
<polygon shape-rendering="crispEdges" transform="scale(1.2 1)" fill="#0000FF" stroke="#0000FF" stroke-width="1.4" stroke-linejoin="round" points="901.17,913.50 894.97,889.50 907.37,889.50"/>
<line shape-rendering="crispEdges" transform="scale(1.0 1)" x1="1023.80" y1="706.60" x2="1109.00" y2="706.60" stroke="#008000" stroke-width="2.0"/>
<polygon shape-rendering="crispEdges" transform="scale(1.2 1)" fill="#008000" stroke="#008000" stroke-width="1.4" stroke-linejoin="round" points="945.17,706.60 921.17,712.80 921.17,700.40"/>
<text transform="translate(621.50 677.10) scale(1.1280 1)" font-size="46.00" fill="#33FFFF" filter="url(#thr)">3.00 mm</text>
<text transform="translate(667.50 750.70) scale(1.1280 1)" font-size="46.00" fill="#800000" filter="url(#thr)">3.25 mm</text>
<text transform="translate(641.50 818.70) scale(1.1280 1)" font-size="46.00" fill="#000000" filter="url(#thr)">1.50 mm</text>
<text transform="translate(776.00 862.10) scale(1.1280 1)" font-size="46.00" fill="#A67C13" filter="url(#thr)">2.75 mm</text>
<text transform="translate(729.00 953.00) scale(1.1280 1)" font-size="46.00" fill="#8000FF" filter="url(#thr)">2.50 mm</text>
<text transform="translate(1002.00 959.20) scale(1.1280 1)" font-size="46.00" fill="#0000FF" filter="url(#thr)">2.00 mm</text>
<text transform="translate(1127.00 847.50) scale(1.1280 1)" font-size="46.00" fill="#FF0000" filter="url(#thr)">1.75 mm</text>
<text transform="translate(1137.00 723.20) scale(1.1280 1)" font-size="46.00" fill="#008000" filter="url(#thr)">2.25 mm</text>
<rect shape-rendering="crispEdges" x="1255" y="549" width="129" height="4" fill="#515151"/>
<text transform="translate(1397.00 567.90) scale(1.1150 1)" font-size="51.40" fill="#000" filter="url(#thr)">1.50 mm</text>
<rect shape-rendering="crispEdges" x="1255" y="612" width="129" height="3" fill="#F14040"/>
<text transform="translate(1397.00 630.50) scale(1.1150 1)" font-size="51.40" fill="#000" filter="url(#thr)">1.75 mm</text>
<rect shape-rendering="crispEdges" x="1255" y="675" width="129" height="3" fill="#1A6FDF"/>
<text transform="translate(1397.00 693.10) scale(1.1150 1)" font-size="51.40" fill="#000" filter="url(#thr)">2.00 mm</text>
<rect shape-rendering="crispEdges" x="1255" y="737" width="129" height="4" fill="#37AD6B"/>
<text transform="translate(1397.00 755.70) scale(1.1150 1)" font-size="51.40" fill="#000" filter="url(#thr)">2.25 mm</text>
<rect shape-rendering="crispEdges" x="1255" y="800" width="129" height="3" fill="#B177DE"/>
<text transform="translate(1397.00 818.30) scale(1.1150 1)" font-size="51.40" fill="#000" filter="url(#thr)">2.50 mm</text>
<rect shape-rendering="crispEdges" x="1255" y="863" width="129" height="3" fill="#CC9900"/>
<text transform="translate(1397.00 880.90) scale(1.1150 1)" font-size="51.40" fill="#000" filter="url(#thr)">2.75 mm</text>
<rect shape-rendering="crispEdges" x="1255" y="925" width="129" height="4" fill="#00CBCC"/>
<text transform="translate(1397.00 943.50) scale(1.1150 1)" font-size="51.40" fill="#000" filter="url(#thr)">3.00 mm</text>
<rect shape-rendering="crispEdges" x="1255" y="988" width="129" height="3" fill="#7D4E4E"/>
<text transform="translate(1397.00 1006.10) scale(1.1150 1)" font-size="51.40" fill="#000" filter="url(#thr)">3.25 mm</text>
<g fill="#000" shape-rendering="crispEdges">
<rect x="251.00" y="61.00" width="5.00" height="981.00"/>
<rect x="1625.00" y="61.00" width="6.00" height="981.00"/>
<rect x="253.00" y="59.00" width="1376.00" height="4.00"/>
<rect x="253.00" y="1039.00" width="1376.00" height="5.00"/>
<rect x="256.00" y="127.00" width="9.00" height="5.00"/>
<rect x="256.00" y="110.00" width="9.00" height="5.00"/>
<rect x="256.00" y="98.00" width="9.00" height="5.00"/>
<rect x="256.00" y="88.00" width="9.00" height="5.00"/>
<rect x="256.00" y="80.00" width="9.00" height="5.00"/>
<rect x="256.00" y="74.00" width="9.00" height="5.00"/>
<rect x="256.00" y="68.00" width="9.00" height="5.00"/>
<rect x="256.00" y="63.00" width="9.00" height="5.00"/>
<rect x="256.00" y="157.00" width="20.00" height="4.00"/>
<rect x="256.00" y="225.00" width="9.00" height="5.00"/>
<rect x="256.00" y="208.00" width="9.00" height="5.00"/>
<rect x="256.00" y="196.00" width="9.00" height="5.00"/>
<rect x="256.00" y="186.00" width="9.00" height="5.00"/>
<rect x="256.00" y="178.00" width="9.00" height="5.00"/>
<rect x="256.00" y="172.00" width="9.00" height="5.00"/>
<rect x="256.00" y="166.00" width="9.00" height="5.00"/>
<rect x="256.00" y="161.00" width="9.00" height="5.00"/>
<rect x="256.00" y="255.00" width="20.00" height="4.00"/>
<rect x="256.00" y="323.00" width="9.00" height="5.00"/>
<rect x="256.00" y="306.00" width="9.00" height="5.00"/>
<rect x="256.00" y="294.00" width="9.00" height="5.00"/>
<rect x="256.00" y="284.00" width="9.00" height="5.00"/>
<rect x="256.00" y="276.00" width="9.00" height="5.00"/>
<rect x="256.00" y="270.00" width="9.00" height="5.00"/>
<rect x="256.00" y="264.00" width="9.00" height="5.00"/>
<rect x="256.00" y="259.00" width="9.00" height="5.00"/>
<rect x="256.00" y="353.00" width="20.00" height="4.00"/>
<rect x="256.00" y="421.00" width="9.00" height="5.00"/>
<rect x="256.00" y="404.00" width="9.00" height="5.00"/>
<rect x="256.00" y="392.00" width="9.00" height="5.00"/>
<rect x="256.00" y="382.00" width="9.00" height="5.00"/>
<rect x="256.00" y="374.00" width="9.00" height="5.00"/>
<rect x="256.00" y="368.00" width="9.00" height="5.00"/>
<rect x="256.00" y="362.00" width="9.00" height="5.00"/>
<rect x="256.00" y="357.00" width="9.00" height="5.00"/>
<rect x="256.00" y="451.00" width="20.00" height="4.00"/>
<rect x="256.00" y="519.00" width="9.00" height="5.00"/>
<rect x="256.00" y="502.00" width="9.00" height="5.00"/>
<rect x="256.00" y="490.00" width="9.00" height="5.00"/>
<rect x="256.00" y="480.00" width="9.00" height="5.00"/>
<rect x="256.00" y="472.00" width="9.00" height="5.00"/>
<rect x="256.00" y="466.00" width="9.00" height="5.00"/>
<rect x="256.00" y="460.00" width="9.00" height="5.00"/>
<rect x="256.00" y="455.00" width="9.00" height="5.00"/>
<rect x="256.00" y="549.00" width="20.00" height="4.00"/>
<rect x="256.00" y="617.00" width="9.00" height="5.00"/>
<rect x="256.00" y="600.00" width="9.00" height="5.00"/>
<rect x="256.00" y="588.00" width="9.00" height="5.00"/>
<rect x="256.00" y="578.00" width="9.00" height="5.00"/>
<rect x="256.00" y="571.00" width="9.00" height="5.00"/>
<rect x="256.00" y="564.00" width="9.00" height="5.00"/>
<rect x="256.00" y="558.00" width="9.00" height="5.00"/>
<rect x="256.00" y="553.00" width="9.00" height="5.00"/>
<rect x="256.00" y="647.00" width="20.00" height="4.00"/>
<rect x="256.00" y="715.00" width="9.00" height="5.00"/>
<rect x="256.00" y="698.00" width="9.00" height="5.00"/>
<rect x="256.00" y="686.00" width="9.00" height="5.00"/>
<rect x="256.00" y="676.00" width="9.00" height="5.00"/>
<rect x="256.00" y="669.00" width="9.00" height="5.00"/>
<rect x="256.00" y="662.00" width="9.00" height="5.00"/>
<rect x="256.00" y="656.00" width="9.00" height="5.00"/>
<rect x="256.00" y="651.00" width="9.00" height="5.00"/>
<rect x="256.00" y="745.00" width="20.00" height="4.00"/>
<rect x="256.00" y="813.00" width="9.00" height="5.00"/>
<rect x="256.00" y="796.00" width="9.00" height="5.00"/>
<rect x="256.00" y="784.00" width="9.00" height="5.00"/>
<rect x="256.00" y="774.00" width="9.00" height="5.00"/>
<rect x="256.00" y="767.00" width="9.00" height="5.00"/>
<rect x="256.00" y="760.00" width="9.00" height="5.00"/>
<rect x="256.00" y="754.00" width="9.00" height="5.00"/>
<rect x="256.00" y="749.00" width="9.00" height="5.00"/>
<rect x="256.00" y="843.00" width="20.00" height="4.00"/>
<rect x="256.00" y="911.00" width="9.00" height="5.00"/>
<rect x="256.00" y="894.00" width="9.00" height="5.00"/>
<rect x="256.00" y="882.00" width="9.00" height="5.00"/>
<rect x="256.00" y="872.00" width="9.00" height="5.00"/>
<rect x="256.00" y="865.00" width="9.00" height="5.00"/>
<rect x="256.00" y="858.00" width="9.00" height="5.00"/>
<rect x="256.00" y="852.00" width="9.00" height="5.00"/>
<rect x="256.00" y="847.00" width="9.00" height="5.00"/>
<rect x="256.00" y="941.00" width="20.00" height="4.00"/>
<rect x="256.00" y="1009.00" width="9.00" height="5.00"/>
<rect x="256.00" y="992.00" width="9.00" height="5.00"/>
<rect x="256.00" y="980.00" width="9.00" height="5.00"/>
<rect x="256.00" y="970.00" width="9.00" height="5.00"/>
<rect x="256.00" y="963.00" width="9.00" height="5.00"/>
<rect x="256.00" y="956.00" width="9.00" height="5.00"/>
<rect x="256.00" y="950.00" width="9.00" height="5.00"/>
<rect x="256.00" y="945.00" width="9.00" height="5.00"/>
<rect x="348.98" y="1031.00" width="5.40" height="8.00"/>
<rect x="447.16" y="1022.00" width="5.40" height="17.00"/>
<rect x="545.34" y="1031.00" width="5.40" height="8.00"/>
<rect x="643.51" y="1022.00" width="5.40" height="17.00"/>
<rect x="741.69" y="1031.00" width="5.40" height="8.00"/>
<rect x="839.87" y="1022.00" width="5.40" height="17.00"/>
<rect x="938.05" y="1031.00" width="5.40" height="8.00"/>
<rect x="1036.23" y="1022.00" width="5.40" height="17.00"/>
<rect x="1134.41" y="1031.00" width="5.40" height="8.00"/>
<rect x="1232.59" y="1022.00" width="5.40" height="17.00"/>
<rect x="1330.76" y="1031.00" width="5.40" height="8.00"/>
<rect x="1428.94" y="1022.00" width="5.40" height="17.00"/>
<rect x="1527.12" y="1031.00" width="5.40" height="8.00"/>
</g>
<g fill="#000">
<text transform="translate(229.00 81.80) scale(1.1000 1)" font-size="62.00" text-anchor="end" filter="url(#thr)">10<tspan dy="-23.5" font-size="43.4">-1</tspan></text>
<text transform="translate(230.50 179.85) scale(1.1000 1)" font-size="62.00" text-anchor="end" filter="url(#thr)">10<tspan dy="-23.5" font-size="43.4">-2</tspan></text>
<text transform="translate(230.50 277.90) scale(1.1000 1)" font-size="62.00" text-anchor="end" filter="url(#thr)">10<tspan dy="-23.5" font-size="43.4">-3</tspan></text>
<text transform="translate(230.50 375.95) scale(1.1000 1)" font-size="62.00" text-anchor="end" filter="url(#thr)">10<tspan dy="-23.5" font-size="43.4">-4</tspan></text>
<text transform="translate(230.50 474.00) scale(1.1000 1)" font-size="62.00" text-anchor="end" filter="url(#thr)">10<tspan dy="-23.5" font-size="43.4">-5</tspan></text>
<text transform="translate(230.50 572.05) scale(1.1000 1)" font-size="62.00" text-anchor="end" filter="url(#thr)">10<tspan dy="-23.5" font-size="43.4">-6</tspan></text>
<text transform="translate(230.50 670.10) scale(1.1000 1)" font-size="62.00" text-anchor="end" filter="url(#thr)">10<tspan dy="-23.5" font-size="43.4">-7</tspan></text>
<text transform="translate(230.50 768.15) scale(1.1000 1)" font-size="62.00" text-anchor="end" filter="url(#thr)">10<tspan dy="-23.5" font-size="43.4">-8</tspan></text>
<text transform="translate(230.50 866.20) scale(1.1000 1)" font-size="62.00" text-anchor="end" filter="url(#thr)">10<tspan dy="-23.5" font-size="43.4">-9</tspan></text>
<text transform="translate(230.50 964.25) scale(1.1000 1)" font-size="62.00" text-anchor="end" filter="url(#thr)">10<tspan dy="-23.5" font-size="43.4">-10</tspan></text>
<text transform="translate(229.00 1062.30) scale(1.1000 1)" font-size="62.00" text-anchor="end" filter="url(#thr)">10<tspan dy="-23.5" font-size="43.4">-11</tspan></text>
<text transform="translate(253.50 1109.30) scale(1.1000 1)" font-size="62.00" text-anchor="middle" filter="url(#thr)">-1.25</text>
<text transform="translate(449.86 1109.30) scale(1.1000 1)" font-size="62.00" text-anchor="middle" filter="url(#thr)">-1.00</text>
<text transform="translate(646.21 1109.30) scale(1.1000 1)" font-size="62.00" text-anchor="middle" filter="url(#thr)">-0.75</text>
<text transform="translate(842.57 1109.30) scale(1.1000 1)" font-size="62.00" text-anchor="middle" filter="url(#thr)">-0.50</text>
<text transform="translate(1038.93 1109.30) scale(1.1000 1)" font-size="62.00" text-anchor="middle" filter="url(#thr)">-0.25</text>
<text transform="translate(1235.29 1109.30) scale(1.1000 1)" font-size="62.00" text-anchor="middle" filter="url(#thr)">0.00</text>
<text transform="translate(1431.64 1109.30) scale(1.1000 1)" font-size="62.00" text-anchor="middle" filter="url(#thr)">0.25</text>
<text transform="translate(1628.00 1109.30) scale(1.1000 1)" font-size="62.00" text-anchor="middle" filter="url(#thr)">0.50</text>
<text transform="translate(933.00 1184.00) scale(1.1510 1)" font-size="63.50" text-anchor="middle" filter="url(#thr)">Potential / (V)</text>
<text transform="translate(93.60 558.80) scale(1.1600 1) rotate(-90)" font-size="65.10" text-anchor="middle" filter="url(#thr)">Current density (A / cm<tspan dy="-26.04" font-size="44.27">2</tspan><tspan dy="26.04">)</tspan></text>
</g>
</svg>
</body></html>
